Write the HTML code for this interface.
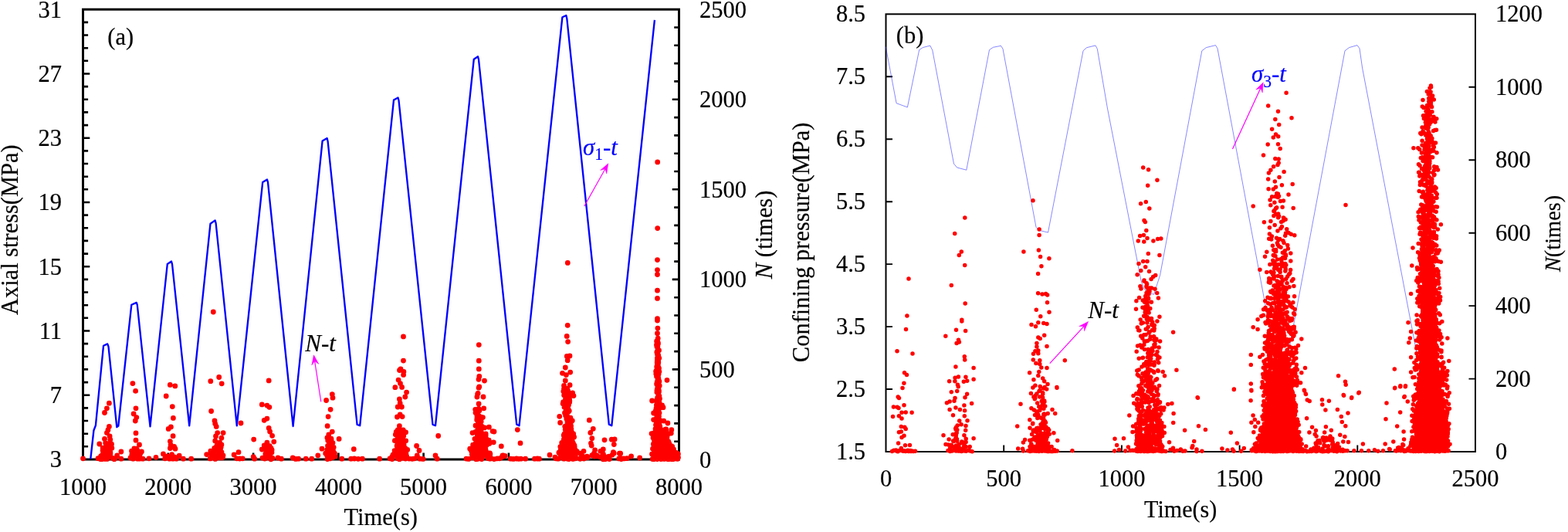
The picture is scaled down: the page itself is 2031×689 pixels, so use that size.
<!DOCTYPE html>
<html lang="en">
<head>
<meta charset="utf-8">
<title>Axial stress and confining pressure versus AE counts</title>
<style>
html,body{margin:0;padding:0;background:#fff;}
body{width:2031px;height:689px;overflow:hidden;}
svg{display:block;font-family:"Liberation Serif","Times New Roman",serif;font-size:30.5px;fill:#000;}
text{stroke:#000;stroke-width:0.2px;}
text[fill="#0000ff"]{stroke:#0000ff;stroke-width:0.2px;}
</style>
</head>
<body>
<svg width="2031" height="689" viewBox="0 0 2031 689">
<rect width="2031" height="689" fill="#fff"/>
<g id="plotA">
<rect x="107.5" y="12.2" width="772" height="582.8" fill="none" stroke="#000" stroke-width="3"/>
<path d="M107.5 28.9h6.6M107.5 45.5h6.6M107.5 62.2h6.6M107.5 78.8h6.6M107.5 95.5h8.8M107.5 112.1h6.6M107.5 128.8h6.6M107.5 145.4h6.6M107.5 162.1h6.6M107.5 178.7h8.8M107.5 195.4h6.6M107.5 212h6.6M107.5 228.7h6.6M107.5 245.3h6.6M107.5 262h8.8M107.5 278.6h6.6M107.5 295.3h6.6M107.5 311.9h6.6M107.5 328.6h6.6M107.5 345.2h8.8M107.5 361.9h6.6M107.5 378.5h6.6M107.5 395.2h6.6M107.5 411.8h6.6M107.5 428.5h8.8M107.5 445.1h6.6M107.5 461.8h6.6M107.5 478.4h6.6M107.5 495.1h6.6M107.5 511.7h8.8M107.5 528.4h6.6M107.5 545h6.6M107.5 561.7h6.6M107.5 578.3h6.6M879.5 35.5h-6.3M879.5 58.8h-6.3M879.5 82.1h-6.3M879.5 105.4h-6.3M879.5 128.8h-8.8M879.5 152.1h-6.3M879.5 175.4h-6.3M879.5 198.7h-6.3M879.5 222h-6.3M879.5 245.3h-8.8M879.5 268.6h-6.3M879.5 291.9h-6.3M879.5 315.3h-6.3M879.5 338.6h-6.3M879.5 361.9h-8.8M879.5 385.2h-6.3M879.5 408.5h-6.3M879.5 431.8h-6.3M879.5 455.1h-6.3M879.5 478.4h-8.8M879.5 501.8h-6.3M879.5 525.1h-6.3M879.5 548.4h-6.3M879.5 571.7h-6.3M217.8 595v-8.5M328.1 595v-8.5M438.4 595v-8.5M548.6 595v-8.5M658.9 595v-8.5M769.2 595v-8.5" stroke="#000" stroke-width="2.6" fill="none"/>
<text transform="translate(80 22.6) scale(1 1.025)" text-anchor="end">31</text>
<text transform="translate(80 105.9) scale(1 1.025)" text-anchor="end">27</text>
<text transform="translate(80 189.1) scale(1 1.025)" text-anchor="end">23</text>
<text transform="translate(80 272.4) scale(1 1.025)" text-anchor="end">19</text>
<text transform="translate(80 355.6) scale(1 1.025)" text-anchor="end">15</text>
<text transform="translate(80 438.9) scale(1 1.025)" text-anchor="end">11</text>
<text transform="translate(80 522.1) scale(1 1.025)" text-anchor="end">7</text>
<text transform="translate(80 605.4) scale(1 1.025)" text-anchor="end">3</text>
<text transform="translate(107.5 640.6) scale(1 1.025)" text-anchor="middle">1000</text>
<text transform="translate(217.8 640.6) scale(1 1.025)" text-anchor="middle">2000</text>
<text transform="translate(328.1 640.6) scale(1 1.025)" text-anchor="middle">3000</text>
<text transform="translate(438.4 640.6) scale(1 1.025)" text-anchor="middle">4000</text>
<text transform="translate(548.6 640.6) scale(1 1.025)" text-anchor="middle">5000</text>
<text transform="translate(658.9 640.6) scale(1 1.025)" text-anchor="middle">6000</text>
<text transform="translate(769.2 640.6) scale(1 1.025)" text-anchor="middle">7000</text>
<text transform="translate(879.5 640.6) scale(1 1.025)" text-anchor="middle">8000</text>
<text transform="translate(906 22.7) scale(1 1.025)" text-anchor="start">2500</text>
<text transform="translate(906 139.3) scale(1 1.025)" text-anchor="start">2000</text>
<text transform="translate(906 255.8) scale(1 1.025)" text-anchor="start">1500</text>
<text transform="translate(906 372.4) scale(1 1.025)" text-anchor="start">1000</text>
<text transform="translate(906 488.9) scale(1 1.025)" text-anchor="start">500</text>
<text transform="translate(906 605.5) scale(1 1.025)" text-anchor="start">0</text>
<text transform="translate(493.2 680.2) scale(1 1.025)" text-anchor="middle" font-size="30.5">Time(s)</text>
<text transform="translate(23 297.7) rotate(-90) scale(1 1.025)" text-anchor="middle" font-size="30.45">Axial stress(MPa)</text>
<text transform="translate(999.7 303.9) rotate(-90) scale(1 1.025)" text-anchor="middle" font-size="30.6"><tspan font-style="italic">N</tspan> (times)</text>
<text transform="translate(139.3 58.1) scale(1 1.025)" text-anchor="start" font-size="30.5">(a)</text>
<polyline points="117.3,594.5 121.4,557.5 123.9,551 134,447.8 139.2,445.4 140.5,448.8 151.3,553.2 153.3,551.5 170.3,394.8 176.8,391.9 177.8,395 194.5,552.4 216.8,342 222,338.6 223,342 245.2,551.3 272.5,289.7 278.6,285.4 279.6,289 306.8,551.3 340.2,236 346,232.5 347,236 379.6,552 417.6,182.6 423.6,179.1 424.6,183 462.6,550 466.2,551.2 510,129.6 515.5,126.5 516.5,130 560.5,550 564,551.2 613.8,76.7 619,73.2 620,77 669.2,549.6 672.5,551.3 728.4,22.2 733.3,20 734.3,24 788.8,549.6 792.3,551.3 847.9,25.9" fill="none" stroke="#0000ff" stroke-width="2.35" stroke-linejoin="round"/>
<path d="M107.5 593.8h0M141.4 522.2h0M138.4 528.8h0M135.5 534.5h0M141.4 552.4h0M139.9 556.9h0M138.4 560.6h0M142.1 565h0M135.5 568.4h0M142.8 569.4h0M128.8 575h0M144.3 576h0M156.9 585h0M151.7 590h0M156.9 594.2h0M142.9 586h0M139.3 586.3h0M139.7 580h0M131.5 591.9h0M142.1 577.1h0M144.5 575.2h0M135.9 589.6h0M136.7 573.7h0M133.2 580.2h0M141 586.2h0M139.7 587.3h0M135.5 589.8h0M148 594.7h0M133.4 590.5h0M137.2 582.6h0M140.5 585h0M136.2 594.4h0M141.5 580.7h0M131.7 594.7h0M138.7 589.2h0M140.7 577h0M131.2 591.3h0M137.8 577.5h0M138.7 579.8h0M137.6 580.2h0M133.5 589.5h0M140.5 580.7h0M140.2 592.1h0M140.5 580.7h0M139.2 589.4h0M138.9 580.8h0M133.1 583.5h0M137.6 577.1h0M136.5 588.7h0M138.7 594.4h0M130.5 593h0M138.8 593.7h0M143.7 580.1h0M144.9 580.3h0M133.5 588.8h0M140.1 575h0M139.1 590.5h0M132.9 588.7h0M130.7 590.7h0M142.9 588h0M127 593.7h0M130 594.5h0M133 593.6h0M146 593.4h0M149 593.7h0M171.9 496.6h0M175.6 506.4h0M176 528.8h0M173.1 535.9h0M176.8 540.6h0M175.3 545h0M176 560.9h0M176 570.2h0M180.5 576h0M173.8 581h0M170.9 585h0M183.4 585h0M179.8 587h0M175.3 590h0M172.4 594.2h0M178.3 594.2h0M185 594.2h0M193 593.8h0M202 592.3h0M169 593h0M181 592h0M170.8 588.8h0M174.1 587.7h0M181.7 587.6h0M178 591.3h0M170.5 584.1h0M181.2 594.1h0M176.6 581.2h0M178.4 592.2h0M177.6 582.7h0M179.4 594h0M220.3 498.4h0M226.8 499.9h0M215.2 513h0M223.3 526.6h0M224.4 541.4h0M221.4 552.9h0M218.2 555.4h0M224.1 564.7h0M220.4 571.6h0M221.1 576.1h0M225.6 578.3h0M220.4 580.5h0M227 581.2h0M211.5 587.9h0M222.6 588.6h0M232.2 590.1h0M213.7 593.8h0M219.6 594.2h0M224 594.2h0M228.5 594.2h0M237.4 594.2h0M247.7 594.2h0M217 591h0M226 592h0M276.3 404h0M272.8 493.7h0M283.7 488.5h0M287.2 496.8h0M273.6 532.5h0M278 545h0M278.7 548.7h0M280.2 552.4h0M281.7 560.6h0M289.1 560.6h0M279.5 565h0M286.9 567.2h0M278.7 570.9h0M284.6 573.1h0M286.9 576h0M281 577h0M283 581h0M272.8 584.2h0M267.7 588.6h0M312 548h0M309 585.7h0M303.1 589h0M306.8 593.8h0M310.5 594h0M314.2 593.8h0M283 592.1h0M288.1 590.5h0M286.6 586.2h0M280.7 588.8h0M277.7 589h0M289 589.8h0M281.6 591.2h0M283.3 588.9h0M280.1 578.8h0M277.8 589.2h0M281.5 590.7h0M272.2 593.9h0M280.1 584h0M285.6 581.1h0M282.8 586.6h0M276.8 590.3h0M288.5 592.3h0M280.1 585.6h0M283.9 580.3h0M287.1 592.9h0M278.1 583.5h0M278.1 583.5h0M278.7 589.6h0M284.8 592.8h0M281 578.5h0M283.6 577.4h0M279.5 584.1h0M277.7 580.3h0M273.8 592.7h0M282.2 577.6h0M285 589.7h0M278.8 594.4h0M273.5 587.2h0M279.8 587.1h0M281.5 583.4h0M284.1 587.9h0M287 585.7h0M286.2 578.9h0M282.1 580.1h0M279.5 593.8h0M348.2 492.9h0M339.3 523.9h0M345.9 525.1h0M348.9 527.3h0M345.9 542.1h0M342.2 544.3h0M348.2 554.4h0M349.6 559h0M352.6 564.3h0M328.7 569.1h0M354.8 572.1h0M345.9 573.1h0M342.2 576.8h0M351.1 580.5h0M339.3 582h0M328.2 591.6h0M329.7 594.2h0M360 593h0M364.4 594.2h0M379.2 593h0M383 594.4h0M386.6 594.2h0M396.2 594.2h0M353.1 593.4h0M344.7 587.4h0M350.1 591.3h0M346.8 591.2h0M350.9 594.8h0M347.9 592.2h0M339.9 593.1h0M348.6 587h0M344.5 587.8h0M346.2 579h0M345.5 585.2h0M347.9 581.3h0M351.9 592.9h0M346.2 587.9h0M344.8 583h0M347.2 591.4h0M344.3 593h0M352 586h0M352.1 582.7h0M343.9 588.4h0M346.8 588.5h0M349.3 577.7h0M348.9 586.3h0M343.8 587.8h0M349.1 588.6h0M342.9 594h0M347.9 580.8h0M343.5 593.7h0M350.1 582.3h0M344.9 580.9h0M430.3 510.6h0M431 515.2h0M422.6 518.5h0M428.1 530.3h0M425.1 539.6h0M424.1 551.7h0M430.3 559.1h0M425.8 562.8h0M439.1 568.4h0M417 581.2h0M411.8 589.8h0M403.7 594.2h0M458.3 581.7h0M442.8 594.2h0M454.7 594.2h0M459 594h0M464 594.3h0M469.4 594.2h0M491.6 594.2h0M427.2 572.2h0M427.4 576.7h0M427.1 568.6h0M423.8 582.4h0M426.1 583h0M425.6 579.6h0M429.1 572.6h0M430.4 583h0M426.9 591.6h0M428.8 590.4h0M428.4 576.5h0M427.2 593.9h0M427.6 573.9h0M429 568.2h0M423.7 589.9h0M421.7 587.2h0M433.4 587.1h0M429.1 569.1h0M426.6 582.2h0M423.9 567h0M427.9 583.6h0M424.7 570.4h0M434 591.1h0M427.9 568.2h0M428 581h0M427.1 581.2h0M425.4 584.9h0M424.4 591.2h0M424.3 588.6h0M425.3 571.1h0M431 592.4h0M427.4 591.6h0M430.6 584.9h0M428.4 590.3h0M431.5 588.7h0M432.2 579.3h0M431 587.4h0M426.2 579.3h0M424.5 577.3h0M429.1 577.8h0M431 573.6h0M428.9 577.2h0M429.9 583.1h0M430.5 586.1h0M424.1 594.5h0M424.7 588.6h0M426 565.9h0M428.6 568.3h0M430.5 583.5h0M431.6 584h0M424.7 590.4h0M427 589.1h0M425.9 570.9h0M425.3 582h0M426.6 593.7h0M522.5 435.9h0M522.5 467.1h0M519 477.8h0M517.5 479.5h0M522.9 481.4h0M522.6 485.4h0M516.1 492.1h0M518.5 496.6h0M511.8 501.7h0M520.6 501.4h0M526.6 508.1h0M524.8 514h0M517.4 517h0M518.2 522.2h0M515.2 527h0M520.4 527h0M518.2 536.9h0M514.5 540h0M521.1 539.6h0M517.4 551.7h0M515.2 556.9h0M525.6 559.8h0M512.3 562.8h0M539.6 577.5h0M543 583.5h0M540.3 590h0M544 594.2h0M567.7 564.5h0M564 590h0M566.2 594.2h0M514.8 583.4h0M516.9 585.2h0M510.8 587h0M511.3 570.7h0M522.1 588.2h0M519.2 588h0M518.7 593.5h0M522.8 577.8h0M522 570.6h0M523.9 587.2h0M515.4 589.9h0M514.9 584.2h0M515.4 560.6h0M519.6 578.2h0M518.1 571.4h0M525 588.8h0M518.6 593.7h0M522.8 564.4h0M514.5 584.2h0M520.4 586.1h0M518 584.5h0M525.7 570.8h0M507.7 591.7h0M518.5 571.7h0M515.1 563.8h0M519.4 562.8h0M517 584.4h0M518.8 569.2h0M509 590.6h0M523.5 589.7h0M515.4 569.3h0M519.1 589.8h0M517.4 594.7h0M522.8 587.9h0M518 575.6h0M515.3 562.3h0M518.3 579.7h0M510.4 588.8h0M511.8 585.4h0M518.4 587.3h0M518.5 565.9h0M516.6 575.5h0M527.7 582.5h0M521.9 592.7h0M515.7 573.1h0M520.7 593.2h0M515.7 575.3h0M514.3 576.6h0M522.1 582.3h0M515.7 590.5h0M520.7 588.3h0M518 558.2h0M525.1 582.4h0M514.1 589.6h0M508.9 589.1h0M518.5 587.6h0M517.4 584.5h0M512.7 585h0M522.1 588.5h0M521.2 576.5h0M519 585.7h0M525.9 587.2h0M523.1 577.1h0M526.7 591h0M526.3 592h0M523.8 581h0M514.1 577.5h0M523 587.8h0M515.1 567.2h0M518.4 572.6h0M516.1 573.3h0M509.8 588.8h0M523.3 578.8h0M513.2 559.4h0M517.7 569.5h0M512.2 583.3h0M517.5 572.2h0M521.5 573.4h0M519.9 579.5h0M517.5 592.7h0M515.2 593.8h0M522.6 560.4h0M518.7 576.2h0M523.7 571.9h0M513.7 570.3h0M523.1 575.7h0M511.1 583.6h0M519.4 573.8h0M525 580.7h0M515.4 571.6h0M516.7 588.6h0M517.7 590.8h0M516.5 571.7h0M522.7 579.5h0M520.3 583h0M522.8 589.2h0M518 563.1h0M515.2 581.6h0M514.2 590.4h0M516.2 562.2h0M519.2 587h0M516.8 563.9h0M525.2 594.1h0M518.1 557.1h0M518.3 570.3h0M522.2 556.9h0M517.3 569h0M516.8 575.8h0M518.8 574.4h0M517.5 571.1h0M505 593.8h0M508 594.5h0M530 594.1h0M534 594.3h0M537 593.8h0M548 594.4h0M620.3 446.6h0M620.3 467.2h0M620.3 477.9h0M620.8 487.5h0M620 491.3h0M627.5 493.1h0M620.8 500.9h0M619.1 509.4h0M620.1 502.2h0M618.6 510.3h0M617.9 514h0M626 514h0M620.1 522.9h0M615.7 530.3h0M626.7 528.8h0M620.1 529.5h0M617.9 541.4h0M620.1 538.4h0M627.5 553.9h0M633.4 553.2h0M638.1 558.6h0M612 560.6h0M639.3 572.8h0M649.3 577.8h0M608.7 581.2h0M651 590h0M649.6 592.3h0M670.3 556.6h0M674 573.9h0M661.4 594.2h0M665 594.4h0M669 594h0M672 594.3h0M674.7 594.2h0M680.6 594.2h0M692.5 594.2h0M696 594h0M698.4 594.2h0M616 534.4h0M619.6 553.1h0M622.9 545h0M616.8 534.3h0M617.3 535.6h0M620 559.9h0M624.3 552.3h0M618.7 544.5h0M620.5 531h0M623.8 561.5h0M616 551.2h0M618.7 543.1h0M622 544.2h0M618.8 557.3h0M623.6 555.6h0M618 543.4h0M623.8 554.2h0M620.6 554.2h0M619.2 560.5h0M619.1 534h0M622.1 553.7h0M617.7 543.7h0M620.8 561.3h0M621.1 549.3h0M625.4 540.6h0M618.5 557.1h0M621.7 557.3h0M622.5 539.8h0M618 537.9h0M620.9 531.8h0M620.2 560.4h0M621.2 553h0M619.1 550.7h0M617.9 538.4h0M618.7 544.5h0M619.2 548.5h0M618.3 542.8h0M621.1 552.9h0M619.5 550.9h0M623.3 551.6h0M623.7 555.2h0M622.3 557.6h0M623.2 546h0M620 548.7h0M615.9 559.4h0M634.9 587.9h0M624.6 584.2h0M610.5 584.1h0M621.8 579.6h0M624.1 563.2h0M618.9 572.3h0M622.4 572.1h0M634.7 594.2h0M623.6 578.8h0M632.2 588.5h0M621.2 565.9h0M622.7 582.5h0M617.9 572.4h0M629.2 563.8h0M622.3 578h0M621.2 562.7h0M628.7 574.9h0M618.3 594.4h0M633.8 574.4h0M624.9 570.5h0M624.1 580.4h0M621.3 593.8h0M621.6 570.3h0M622.6 566.3h0M635.2 592.5h0M629.5 567.7h0M612.8 579.6h0M621.6 574.8h0M621.3 569.8h0M624.7 589.6h0M620.9 592.1h0M630.8 574.6h0M619.2 573.7h0M623.9 594.6h0M617.9 582.3h0M623.5 574h0M622.5 565.3h0M620.5 572.5h0M633.2 570.1h0M623.9 561.9h0M629.2 577.6h0M624.9 569.8h0M629.2 576.7h0M628.9 581.8h0M631.9 586.7h0M621.8 569.5h0M618.3 584.6h0M634.3 589.2h0M619 572.1h0M616.1 583.7h0M628.3 584.2h0M611.8 591.8h0M621.1 560.5h0M624.2 579.5h0M627 564.4h0M624 582.6h0M614.9 568.3h0M624.9 575.1h0M618.5 573.3h0M613.7 590.4h0M628.5 568.9h0M614.6 589.5h0M625.7 576.9h0M624.3 562.5h0M616.7 594.7h0M611.3 588.4h0M615.6 592.2h0M616.1 574.5h0M629.2 561.9h0M614.9 588.1h0M618.8 582.9h0M618.7 593.3h0M617.7 594.5h0M618.9 578.2h0M630.7 576.1h0M629.3 584h0M626.3 577.8h0M616.2 589.4h0M619 570h0M618.6 570.8h0M628.8 574.9h0M625 586.6h0M619.7 577.5h0M613.1 576.8h0M618.3 569.9h0M624 593.1h0M624.3 576.8h0M629.9 576.7h0M611.9 592.7h0M622.6 577.6h0M626.9 575.5h0M618.2 563.3h0M619.4 562.4h0M619.3 561.7h0M621 582.7h0M627.8 573.1h0M616.4 568.3h0M620.3 587.5h0M615.3 591.6h0M612.6 576.2h0M623.6 561.1h0M629 590.1h0M626.1 586.3h0M634.5 586.9h0M621.8 591.7h0M620.2 565.4h0M619 563.7h0M614.7 581.2h0M617.9 578.2h0M612.5 586.2h0M617 576.1h0M627.7 583.8h0M613.8 587.2h0M615.5 576.9h0M622.8 563.3h0M616.9 580.3h0M624 561h0M622.4 583.3h0M623.5 570.1h0M623.2 593.9h0M632 593.6h0M620.8 584.9h0M632.1 573.7h0M622.3 577.5h0M620.2 567.8h0M624.8 576.7h0M621.4 570.3h0M616.9 572.1h0M619.3 577.9h0M626.6 585.8h0M604 594.1h0M607 594.4h0M640 594.6h0M644 593.8h0M647 593.8h0M735.3 340.4h0M735.2 421.3h0M734.2 435.4h0M735.6 442.6h0M734.3 461.5h0M738 461h0M735.2 466.7h0M732.3 476h0M728.5 483.3h0M738.7 482.1h0M733.4 485.6h0M732.3 492.9h0M730.5 499.5h0M738.1 498.7h0M741.6 508.8h0M743 512.6h0M732.9 510.3h0M724.7 539.3h0M725.6 547.4h0M763.3 544.2h0M768.3 555.3h0M764.8 560.5h0M766.8 567.7h0M765.4 574.1h0M766.2 577h0M770.6 582.8h0M783 569.8h0M792.3 569.2h0M796.1 568.9h0M795.3 575.6h0M781.3 582h0M777.8 584.3h0M794.4 585.7h0M756 584.3h0M751.7 587.2h0M817.6 591h0M828.6 593h0M712 589.2h0M719 592.1h0M735.2 563.3h0M739.6 551.7h0M733.3 559.6h0M734.3 538.7h0M736.5 524.6h0M732 521.1h0M732.4 516.6h0M729.8 507h0M731.7 552.3h0M732.2 556.4h0M734.4 562.1h0M736.6 522.3h0M734.5 532.1h0M732.4 553h0M739.9 555.6h0M735.7 543.7h0M739.4 547.2h0M734.9 512.4h0M729.6 520.6h0M741.3 544.8h0M735.2 513.1h0M737.2 547.7h0M733.1 569.3h0M730.6 511.8h0M735.7 553.9h0M731.9 527.8h0M732.6 538.2h0M735.8 558.2h0M737.3 532.1h0M735.7 568.9h0M734.4 542.3h0M734.9 516.4h0M732.2 522.1h0M732 527.3h0M734 513.9h0M733.7 520.4h0M729.1 522.8h0M730.2 563.7h0M737.6 517h0M736.8 518.5h0M736.1 533.6h0M735.7 506.5h0M736.4 547.2h0M738.3 562h0M734.2 560.2h0M730.5 503.4h0M735.2 508.1h0M731.6 526.4h0M734.5 519.1h0M739 541.1h0M736.4 554.2h0M740.7 559.8h0M736.6 510.3h0M736.1 552.3h0M733.4 503.1h0M734.9 531.8h0M734.9 558.8h0M735.9 529.5h0M731 527.2h0M734.6 554.6h0M733.8 542.3h0M731.6 510.8h0M731.5 534.7h0M733.8 532.8h0M735.7 567.2h0M733.8 527.1h0M738.1 569.3h0M735.4 519.8h0M734.3 516.6h0M731.1 566.9h0M735.6 529.7h0M735 547.9h0M737.8 519.2h0M736 561.5h0M734.5 543.7h0M735.7 551.4h0M732.2 533.9h0M735.5 545.8h0M734.9 504h0M738.6 545.3h0M737.4 514.6h0M735.3 554.3h0M737.1 569.4h0M737.5 512.5h0M737.7 520.9h0M739.9 566.3h0M735.2 540h0M734.7 562.3h0M734.8 558.6h0M730.9 562.1h0M731.2 585.6h0M732.5 589.5h0M745.4 589.8h0M745.3 582.8h0M730.3 569.1h0M737.5 563.3h0M726.1 590.7h0M741.6 577.8h0M737.3 592.5h0M741.3 571.4h0M734.4 587.9h0M728.1 579.2h0M734.9 575.3h0M734.5 584.4h0M737.4 568.1h0M736.3 568.1h0M730.2 584.6h0M743.1 593.8h0M732.6 576.9h0M736.3 568.9h0M734.4 590.4h0M739.8 581.5h0M733.7 587.2h0M737.7 574.3h0M738.3 591.3h0M738.4 593.3h0M729.7 584.3h0M732.6 578.8h0M736.3 593.9h0M731.5 586.4h0M737.2 568.2h0M738 578.9h0M738.4 591.2h0M735.5 566.7h0M737.1 577h0M739.6 586.3h0M731.2 593.7h0M733.9 580.4h0M739.1 575.4h0M751.4 594.3h0M741.8 578h0M737.2 587.2h0M736.8 580.2h0M738 571.8h0M730.5 577.2h0M725.7 588.3h0M741.2 585.7h0M741.9 573.1h0M730.4 589.2h0M742.7 561.8h0M727.1 592.4h0M731.5 582.4h0M733.6 589.6h0M732.7 567.9h0M733.8 566.2h0M731.5 589.2h0M732.5 564.4h0M740.2 583.1h0M735.7 567h0M735.4 594.3h0M747.3 584.7h0M725.8 578.6h0M742.9 590.3h0M731.2 569.3h0M738.4 567.2h0M734.8 585.5h0M727.9 578.7h0M738.2 567.3h0M743 581h0M737.5 593.7h0M731.8 592.6h0M731 588.2h0M734 579.1h0M729.9 579.2h0M730.4 590.8h0M731.2 582.8h0M732.6 566.7h0M735.8 580.8h0M728.7 580.9h0M730.4 594.2h0M735.9 594h0M734.9 577.2h0M733.7 584h0M733.6 581.8h0M731 566.4h0M740.5 589.7h0M735.6 578.3h0M743.6 566h0M737.5 575.8h0M732 589.5h0M731.7 588.9h0M743.6 582.9h0M741.7 562.3h0M732.8 583.7h0M744.2 578.8h0M734.3 592.9h0M737.7 579.5h0M730.5 579.7h0M733.7 575.5h0M740.7 567.5h0M726.1 582.8h0M741.9 575.2h0M730.8 593h0M735.7 582.4h0M729 591.8h0M736.7 579.2h0M739.2 593.2h0M734.6 577.8h0M732.8 588.3h0M730.6 571.2h0M737.3 576.5h0M741 577.8h0M736.7 576.8h0M736.9 594.5h0M735.8 572.4h0M727.2 583.6h0M737.7 590.5h0M738.2 579.2h0M742.1 594.4h0M735.9 580.9h0M737.2 566.9h0M738 563.2h0M729.4 582.9h0M745.2 593.8h0M735.7 566.6h0M737.4 571.1h0M739.2 567.7h0M745.6 592.4h0M744 577h0M742.6 574.5h0M727.7 573.5h0M730.3 582.5h0M731.6 573.1h0M731 573.8h0M736.6 581.6h0M743.3 591.4h0M739.6 582.7h0M745.8 586h0M735.8 573.4h0M736.2 577h0M737.3 579.9h0M737.5 593.6h0M738.1 576.5h0M741.7 567.2h0M735.7 565.3h0M737.6 583.3h0M735.2 575.1h0M723.9 586.2h0M745 583.5h0M740.9 591.3h0M754.3 591.2h0M760.3 591.2h0M769.8 591h0M761.1 592.6h0M773.4 590.9h0M754.4 590.9h0M781.2 594.8h0M781.4 588.1h0M766.8 589.7h0M789.3 594.5h0M804.7 594.6h0M801.8 593.9h0M802.4 587.2h0M777.4 591.7h0M788.4 591.9h0M784.3 594.5h0M754.8 591.2h0M803.7 587.3h0M756.3 594h0M803.6 587.2h0M751.8 593.6h0M788.6 591.2h0M782.5 593.1h0M795.2 587h0M753.8 593.4h0M804.6 593.7h0M772.8 589.7h0M769.4 587.1h0M793.1 589.1h0M782.8 591.2h0M720 593.8h0M723 594.2h0M808 593.9h0M812 593.7h0M851.7 209.9h0M851.7 295.6h0M851.5 336.6h0M851.5 349.6h0M851.5 355.5h0M851.5 376.2h0M851.5 386.4h0M851.5 412.7h0M851.5 415h0M851.9 425.1h0M851.5 431.7h0M852.2 438.2h0M851.1 441.5h0M851.5 445.8h0M864 492.3h0M844.6 519h0M857.6 524.8h0M859 527.7h0M846.6 535h0M846.6 543.6h0M859.7 545.1h0M864.9 548h0M869.8 556.7h0M862.9 558.2h0M869.3 561h0M844 561.6h0M849.5 550.2h0M852.4 471.7h0M851.6 481.6h0M851.3 472.5h0M849.8 549.6h0M852 477.7h0M853 524.3h0M851.8 449.8h0M852.7 467.2h0M852.5 486.3h0M850.1 563.8h0M852.4 538.7h0M850.8 538.8h0M852.6 514.2h0M850.2 542.3h0M851.8 487.5h0M852 457.9h0M853.1 560.1h0M851.4 556.3h0M849.4 558.2h0M853.9 524.8h0M851.3 558.7h0M852.2 455h0M850.9 449h0M850.8 446.2h0M851.9 455.3h0M852.8 511h0M849.3 558.4h0M851.9 449.6h0M850.7 555.5h0M851.5 481.3h0M853.5 539.1h0M852.9 515.4h0M853.8 463.8h0M852.1 443.1h0M850.5 446.5h0M849.3 532h0M852.5 467.5h0M850.8 521.6h0M850.6 441.9h0M851.8 472.6h0M851.7 499.1h0M853 484.6h0M851.9 492.1h0M852.2 481.6h0M854.8 557h0M852.8 460.3h0M851.6 476.1h0M851.2 469.4h0M849.6 558.4h0M851.6 525.9h0M853.1 502.2h0M850.5 487.4h0M852.3 473.6h0M850.7 497.8h0M853.6 500.2h0M850.7 475h0M852.2 540h0M852.5 539.7h0M851.8 503h0M851.9 558.2h0M852.6 476.3h0M850.4 482.8h0M854.8 544.3h0M853.8 554.6h0M854 529h0M852 462h0M851.7 470.5h0M852.3 504h0M854.5 516.3h0M851.1 520.5h0M853.5 453.7h0M851.5 478.8h0M854 534.8h0M851.3 455.7h0M854 548.5h0M853.9 549.2h0M851.5 519.9h0M849.8 484.2h0M851.5 539.5h0M852.7 536.9h0M850.5 479.5h0M853.9 521h0M853.9 481.3h0M853.2 476.3h0M852.4 560.3h0M851.8 474.9h0M852.5 444.4h0M851.9 499.1h0M851.4 464.9h0M849.6 480.9h0M853.1 484.4h0M851.3 520h0M852.8 469.4h0M852 455.2h0M852.6 535.3h0M852.6 557.3h0M853.4 507.6h0M851.4 463.7h0M851.4 458.8h0M852.1 530h0M853.2 535.9h0M850.6 497.1h0M854.2 499.4h0M850.5 447h0M850.5 526.8h0M852.7 493.2h0M852.7 490.4h0M851.1 517h0M850.8 456.1h0M850.8 442.1h0M852 498.6h0M852.2 546.5h0M852.1 479.4h0M852 478h0M851.3 503.6h0M852.2 550.9h0M851.3 528.5h0M851.2 494.6h0M851 518h0M851.7 536.6h0M851.3 549.9h0M854.8 552.2h0M852.9 490.2h0M853.5 477h0M852.2 522h0M851.9 521.7h0M852.8 507.4h0M850 529h0M851.5 535.8h0M852.7 467.6h0M851.7 464.6h0M853.9 512.9h0M852.6 488.9h0M853.1 535.2h0M852.4 471.4h0M852.3 508h0M852.1 537.6h0M851.4 558.8h0M850.9 506h0M853.7 518.2h0M852.4 476.1h0M851.9 458.2h0M853.5 506.2h0M852.4 559.2h0M851.8 449.4h0M852.6 526.3h0M851.6 474.2h0M851.8 443h0M852.2 458.6h0M849.8 556.7h0M851.5 454.7h0M851.1 532.4h0M851.4 526.9h0M851.7 547.4h0M852.6 527.4h0M851.3 467.3h0M852.9 495.2h0M852.6 516.2h0M851.3 467.8h0M851.1 560.5h0M853.9 493.9h0M850.4 524.6h0M852.3 528.3h0M850.4 549h0M851.3 468.6h0M851.6 527h0M850.9 507.9h0M852.4 445.5h0M851.7 515h0M853.3 563.7h0M856.3 567.6h0M856.7 586.4h0M856.8 572.5h0M852.1 575.2h0M849.1 571.3h0M850.1 583.2h0M860.5 590.8h0M866.4 573.4h0M865.2 584.2h0M856.2 580.2h0M859.1 580.3h0M869.4 581.3h0M849.1 569.8h0M859.8 559h0M858.6 572.3h0M867.1 590.5h0M857.9 587.9h0M872.5 581.9h0M859.6 592.8h0M864 570.7h0M861.7 580.7h0M860.2 580.8h0M846.4 594.7h0M855 576.3h0M865.1 582.3h0M863.3 588.4h0M861.3 567.4h0M854.6 585.8h0M858 581.6h0M847.9 584.4h0M848.6 585.2h0M865.2 588.4h0M855.5 582.1h0M864.5 571.4h0M845.4 588.3h0M849.6 589.4h0M852 558.9h0M853.9 593.9h0M857.7 590.3h0M859.4 583.9h0M862.6 582.3h0M856.3 571h0M862.1 580h0M865.4 572.1h0M850 561.5h0M864.9 572.5h0M866.7 594.5h0M861.3 576.1h0M854.7 561.1h0M845.5 581.2h0M856.1 594.5h0M862.7 566.2h0M857.1 567.8h0M857.2 588.5h0M854.8 568.2h0M847.6 591.3h0M865.6 579.1h0M868.3 587.9h0M855.6 560.5h0M846 566.9h0M851.8 591.6h0M860.4 560.2h0M846.3 592.7h0M848.8 572.4h0M854.9 568.7h0M855.9 567.2h0M857.7 566.3h0M851.8 576.3h0M852.4 583.9h0M859.8 556.8h0M865.1 576.4h0M857.7 565.4h0M866.8 575.7h0M851.5 559.7h0M868.3 588h0M853.8 593h0M858.8 591h0M872.3 594.5h0M866 575.3h0M869.2 592.2h0M870.4 594.7h0M853.3 593.9h0M858.1 582.3h0M855.1 561.3h0M855.4 573.8h0M870.8 578.4h0M858.4 571.4h0M857.7 568.2h0M849.4 582.1h0M849 555.4h0M865.8 571.9h0M855.5 561.5h0M867.4 579.6h0M856.6 593.3h0M859.3 576.6h0M856.6 578.9h0M863.3 589h0M847.3 584h0M857.4 577.2h0M869.2 582.6h0M847 561h0M866.2 578.8h0M862.8 581.8h0M852.8 564.3h0M847.4 570h0M852.5 561.4h0M862.2 583.6h0M861.1 564.7h0M863.3 591.8h0M872.1 591.3h0M863.1 572.4h0M851.5 579.1h0M859.1 571.4h0M847.2 580.5h0M870.1 583.7h0M856.3 589.3h0M862 580.4h0M859.1 592.9h0M864.2 579.5h0M850.5 560.2h0M848.9 585.9h0M863.8 577.6h0M854 578.3h0M847.6 592h0M854.3 591.9h0M864 565.6h0M854.9 561.4h0M853.9 578.3h0M852 593.3h0M846.3 588.9h0M865.7 585.1h0M848.1 589.2h0M856.1 583.6h0M858.5 592.8h0M865.4 562h0M860.4 584h0M858.2 592.4h0M854.5 580.3h0M863.3 593.7h0M851.6 581.9h0M861.9 587.8h0M864.6 577.4h0M847.6 579h0M860.8 567.3h0M855.7 584.8h0M863.9 567.6h0M860.1 565.2h0M865.6 583.9h0M867.4 591.6h0M856.5 585h0M858.3 575.5h0M867 574.9h0M863.7 585.8h0M853 584.8h0M864.3 563.7h0M851.3 573h0M862.8 565.9h0M856.4 562.7h0M860.3 569.8h0M851.6 579.3h0M858.8 577.6h0M860 558.9h0M848.9 574h0M860.4 562.3h0M855.9 557.4h0M850.9 573.7h0M862.7 575h0M868.9 592.9h0M855.5 565.1h0M847.2 582.1h0M860.7 577.1h0M872.5 582.8h0M862.4 588.3h0M857.6 588.8h0M858.2 581.2h0M864.4 586.9h0M859.2 589.1h0M847.7 566h0M856.9 593.9h0M856.7 579h0M863.4 588.9h0M853 589.6h0M855.8 563.2h0M862.3 571.6h0M858.9 585.5h0M853.9 568.8h0M848 585.8h0M858.6 568.6h0M862.7 555.8h0M858.2 576h0M860.2 594.4h0M863.1 590h0M849.8 564.8h0M867.7 592.3h0M852.1 565.1h0M867.7 585h0M857.7 578h0M860.3 575.6h0M858.5 586.9h0M850.3 566h0M846.3 575.2h0M869.7 577.6h0M852.5 558.9h0M854.4 573.4h0M853.3 590.6h0M854 563.9h0M863.8 570.1h0M850.9 562.6h0M861.1 588.6h0M856.4 578.6h0M861.8 589.3h0M871 592.8h0M864.1 593.3h0M856.3 568.7h0M861.6 573h0M861.7 586h0M853.4 591.3h0M854.1 572.3h0M868.6 593.5h0M855.9 561.9h0M848.7 574.5h0M855.5 560.5h0M856.5 576.7h0M855.5 557.6h0M853.9 579.9h0M851.7 560.6h0M851.1 564.5h0M857.8 557.9h0M852.4 578.3h0M860.2 563.7h0M860.4 580h0M868.3 580.3h0M868 592.1h0M860.5 578.9h0M869.3 581h0M859.7 560.6h0M859 583.4h0M863.6 579.4h0M853.5 567h0M870.5 590.4h0M869.8 588.8h0M875.2 586.1h0M851.2 592.6h0M875.1 593h0M853 586.7h0M868.9 592.6h0M845.2 594.4h0M862.3 586.3h0M860.5 589h0M846.8 594h0M877.1 587.1h0M859.3 588.5h0M867.5 587h0M855.2 589.7h0M860.3 589.9h0M864.8 594.5h0M877 594.2h0M873.3 588.1h0M851.9 590.1h0M866.5 591.5h0M855.8 593.9h0M854.4 586.2h0M846.3 587.9h0M869.7 593.6h0M844.5 588.1h0M851.8 593.1h0M875.8 588.4h0M846.7 594.7h0M878.5 592.4h0M860.3 592.7h0M871 590.6h0M852.9 590.7h0M867.2 588.9h0M866.3 587.3h0M878.4 587.9h0M851.3 594.6h0M877.7 594.3h0M873.7 593.6h0M873 591.1h0M640 559h0M649.3 577.9h0M652 590h0M654 590.5h0" fill="none" stroke="#ff0000" stroke-width="6.8" stroke-linecap="round"/>
<text transform="translate(755 200.5) scale(1 1.025)" text-anchor="start" font-size="30.8" fill="#0000ff" font-style="italic">σ<tspan font-style="normal" font-size="21.5" dy="6.5">1</tspan><tspan dy="-6.5">-t</tspan></text>
<text transform="translate(395.3 455.3) scale(1 1.025)" text-anchor="start" font-size="31" font-style="italic">N-t</text>
<path d="M415.8 520.3L407.6 467.7" stroke="#ff00ff" stroke-width="1.2" fill="none"/>
<path d="M406.4 459.8L412.9 471.4L407.6 467.7L403.8 472.9Z" fill="#ff00ff" stroke="#ff00ff" stroke-width="0.5" stroke-linejoin="miter"/>
<path d="M756.8 267L783.9 218.8" stroke="#ff00ff" stroke-width="1.2" fill="none"/>
<path d="M787.8 211.8L785.7 225L783.9 218.8L777.7 220.4Z" fill="#ff00ff" stroke="#ff00ff" stroke-width="0.5" stroke-linejoin="miter"/>
</g>
<g id="plotB">
<rect x="1147.5" y="18.3" width="763.5" height="566.7" fill="none" stroke="#000" stroke-width="2"/>
<path d="M1147.5 99.3h8.5M1147.5 180.2h8.5M1147.5 261.2h8.5M1147.5 342.1h8.5M1147.5 423.1h8.5M1147.5 504h8.5M1911 112.8h-8.5M1911 207.2h-8.5M1911 301.7h-8.5M1911 396.1h-8.5M1911 490.6h-8.5M1300.2 585v-8.5M1452.9 585v-8.5M1605.6 585v-8.5M1758.3 585v-8.5" stroke="#000" stroke-width="1.9" fill="none"/>
<text transform="translate(1121 28.3) scale(1 1.025)" text-anchor="end">8.5</text>
<text transform="translate(1121 109.3) scale(1 1.025)" text-anchor="end">7.5</text>
<text transform="translate(1121 190.2) scale(1 1.025)" text-anchor="end">6.5</text>
<text transform="translate(1121 271.2) scale(1 1.025)" text-anchor="end">5.5</text>
<text transform="translate(1121 352.1) scale(1 1.025)" text-anchor="end">4.5</text>
<text transform="translate(1121 433.1) scale(1 1.025)" text-anchor="end">3.5</text>
<text transform="translate(1121 514) scale(1 1.025)" text-anchor="end">2.5</text>
<text transform="translate(1121 595) scale(1 1.025)" text-anchor="end">1.5</text>
<text transform="translate(1147.5 630) scale(1 1.025)" text-anchor="middle">0</text>
<text transform="translate(1300.2 630) scale(1 1.025)" text-anchor="middle">500</text>
<text transform="translate(1452.9 630) scale(1 1.025)" text-anchor="middle">1000</text>
<text transform="translate(1605.6 630) scale(1 1.025)" text-anchor="middle">1500</text>
<text transform="translate(1758.3 630) scale(1 1.025)" text-anchor="middle">2000</text>
<text transform="translate(1911 630) scale(1 1.025)" text-anchor="middle">2500</text>
<text transform="translate(1937 28.3) scale(1 1.025)" text-anchor="start">1200</text>
<text transform="translate(1937 122.8) scale(1 1.025)" text-anchor="start">1000</text>
<text transform="translate(1937 217.2) scale(1 1.025)" text-anchor="start">800</text>
<text transform="translate(1937 311.7) scale(1 1.025)" text-anchor="start">600</text>
<text transform="translate(1937 406.1) scale(1 1.025)" text-anchor="start">400</text>
<text transform="translate(1937 500.6) scale(1 1.025)" text-anchor="start">200</text>
<text transform="translate(1937 595) scale(1 1.025)" text-anchor="start">0</text>
<text transform="translate(1529.2 669.6) scale(1 1.025)" text-anchor="middle" font-size="30.1">Time(s)</text>
<text transform="translate(1047.6 313.9) rotate(-90) scale(1 1.025)" text-anchor="middle" font-size="30.47">Confining pressure(MPa)</text>
<text transform="translate(2021.3 302.4) rotate(-90) scale(1 1.025)" text-anchor="middle" font-size="28.4"><tspan font-style="italic">N</tspan>(times)</text>
<text transform="translate(1160.8 55.6) scale(1 1.025)" text-anchor="start" font-size="30.5">(b)</text>
<polyline points="1147.3,60.5 1161.1,133.7 1175.4,138.9 1190.7,64.5 1195.5,61.5 1204.8,59.1 1207.8,65.2 1235.5,212.1 1239.6,217 1251.8,220.2 1281.5,64.6 1286.3,61.3 1296.5,59.3 1299,63.3 1342,294.2 1346.1,298.3 1357.5,301.1 1403,65.8 1407.5,61.7 1418.9,58.9 1421.3,63.3 1434.4,140 1478,363.4 1481,372.5 1486,378.8 1494.6,381.3 1502.6,356.4 1556.8,65.8 1562.3,61.6 1574.5,58.6 1577,62.8 1650.8,458.5 1653.5,462 1667.5,464 1742,65.8 1747.5,61.6 1758,58.6 1761,62.8 1764.6,88 1835.2,458 1838,463" fill="none" stroke="#3838ff" stroke-width="0.6" stroke-linejoin="round"/>
<path d="M1177 360.9h0M1174.9 409h0M1173.5 426.5h0M1162 454.7h0M1182 458h0M1171.5 482.8h0M1174.5 485.4h0M1170.9 496.2h0M1169 502.5h0M1163.2 513.9h0M1164.5 515.5h0M1157.4 527h0M1162.2 527.3h0M1164 528.5h0M1171 524.8h0M1168 534.3h0M1173.2 534h0M1181.1 534.3h0M1156.5 539.4h0M1164.4 538.8h0M1168 542.1h0M1167.3 552.4h0M1171.8 553.2h0M1173.2 555.4h0M1164.4 559.8h0M1167.3 559h0M1171 564.3h0M1168 566.5h0M1163.6 573.9h0M1172.5 576.8h0M1178.4 576.5h0M1167.3 580.5h0M1155.5 584.6h0M1158 583.3h0M1160.5 583.1h0M1163 584.7h0M1165 583.4h0M1167 583.3h0M1169 584.1h0M1171 583.7h0M1173 584.5h0M1175 583.5h0M1177 584.6h0M1179 583.6h0M1181 584.1h0M1183 584.6h0M1185.5 584.2h0M1162 584.6h0M1170 584.2h0M1176 583.2h0M1180 584.5h0M1249.8 282h0M1236.7 302.4h0M1245.3 326.1h0M1242.3 330.5h0M1249.7 343.5h0M1232.3 369.6h0M1250.2 393h0M1245.8 414.3h0M1245.8 416h0M1238.5 427.3h0M1250.6 428.5h0M1224.8 435.2h0M1241.5 440.2h0M1242.4 443h0M1239.1 444.4h0M1249.3 461.7h0M1249.7 466.1h0M1237.9 475.1h0M1261.1 476.5h0M1241.4 487.9h0M1237.1 489.3h0M1250.9 488.3h0M1229.6 493.8h0M1236.9 493.8h0M1248.3 494.2h0M1252.7 493.2h0M1261.1 491.3h0M1240.4 498.2h0M1241.2 500.7h0M1232.3 507.7h0M1239.7 506.6h0M1252.6 510.3h0M1250 514.8h0M1237 515.5h0M1236 519.2h0M1226.4 521.7h0M1230.1 520h0M1258.6 522.5h0M1248.9 525.1h0M1237.9 528.1h0M1230.1 530.6h0M1243.4 530.6h0M1249.6 531.8h0M1234.5 537.7h0M1249.3 538.7h0M1242.7 545.1h0M1253 544.8h0M1222 563.8h0M1261.1 567.7h0M1225 575.6h0M1240.1 551h0M1245.1 549.8h0M1251 551.6h0M1237.7 555.1h0M1238.1 556.3h0M1238.6 553.2h0M1250.7 557.2h0M1239.2 560.4h0M1239.8 556.7h0M1238.3 561.4h0M1248.9 563.7h0M1238.4 563.2h0M1234.2 562.7h0M1229.1 568.9h0M1239.5 568.7h0M1251.2 568.2h0M1238.3 566.4h0M1234.7 571h0M1237.7 568h0M1249 575.8h0M1235.2 571.5h0M1242.2 575.5h0M1247.2 572.7h0M1251.1 572.6h0M1239.7 571.2h0M1246.6 573.7h0M1245.8 572h0M1232.2 576.3h0M1230.5 580.8h0M1251 578.4h0M1248.4 578.8h0M1235.5 579.1h0M1256.2 578.5h0M1242.4 579.8h0M1238.5 580.1h0M1237.3 580.3h0M1228.4 576.1h0M1231.2 578.6h0M1238.3 576.9h0M1237.7 579.6h0M1243.1 584h0M1245.8 583.1h0M1247.6 582.6h0M1247.2 583.5h0M1246.2 581.8h0M1249.4 583.7h0M1245.4 584.5h0M1250.6 583.9h0M1244.5 583.2h0M1241.4 584h0M1248.8 583.8h0M1244.5 583.3h0M1243.4 583.7h0M1230.3 582.6h0M1244.2 581.6h0M1249.8 583.9h0M1228 583.4h0M1230.6 584.5h0M1233.2 584.1h0M1235.8 583.2h0M1238.4 583.9h0M1241 584.1h0M1243.6 583.2h0M1246.2 583.9h0M1248.8 583.1h0M1251.4 584.3h0M1254 583.1h0M1256.6 584.1h0M1259.2 584.7h0M1338 259.7h0M1346.1 297.1h0M1346.1 304.4h0M1325.9 326.1h0M1345.4 323.9h0M1347.6 332.6h0M1358.9 334.8h0M1348.9 344.8h0M1344.6 354.4h0M1344.6 379.7h0M1350 381h0M1354.6 380.5h0M1356.6 382h0M1356.5 391.8h0M1342.3 401.2h0M1359 404.2h0M1347.8 409.7h0M1336 420.4h0M1344.8 417.8h0M1351.7 418.4h0M1356 419.4h0M1341.5 422.7h0M1352.7 434.2h0M1344.8 437.1h0M1347.2 438.5h0M1342.9 444.4h0M1356 448.5h0M1342.9 448.9h0M1344.8 453.9h0M1340.9 454.8h0M1338.5 458.2h0M1344.8 457.8h0M1338.3 466.1h0M1346.8 466.7h0M1341.9 470.6h0M1346.8 471.6h0M1379.3 466.7h0M1348.8 475.9h0M1356 476.5h0M1333.6 482.8h0M1345.8 481.4h0M1344.8 486.4h0M1338.9 491.7h0M1350.7 489.9h0M1352.7 493.8h0M1357 497.6h0M1368.9 501.5h0M1340.9 499.2h0M1337.9 502.1h0M1351.7 503.1h0M1355.7 504.1h0M1342.9 510h0M1338.9 513.9h0M1346.8 513.9h0M1322 523.2h0M1317.7 552h0M1318.7 581h0M1324.6 581.2h0M1325.4 584h0M1327.6 569.4h0M1325.4 573.1h0M1369 502.2h0M1363 530.6h0M1366.7 535.5h0M1369.7 570.6h0M1388.9 583.8h0M1347.2 500.6h0M1353.1 501.4h0M1347 505.5h0M1346 506.6h0M1350.7 510.2h0M1335.4 509.4h0M1350.7 508.8h0M1341.1 512.6h0M1350.6 514.8h0M1340.9 515.3h0M1349.2 519.5h0M1352.7 519h0M1340.3 516.8h0M1352.9 520.2h0M1343.7 522.1h0M1350.2 523.9h0M1351.6 523.5h0M1353.7 526.1h0M1347.3 527.8h0M1345.8 526.7h0M1351.2 524.4h0M1335.9 528.7h0M1346.8 531.6h0M1339.5 531h0M1351.9 529.3h0M1357.2 535.6h0M1343.5 535.2h0M1343.9 533.1h0M1342.5 533h0M1352.4 536.1h0M1344.8 537.3h0M1353.2 537.3h0M1351.8 536.7h0M1340.5 537.4h0M1348.5 541.2h0M1333.8 543.8h0M1343.8 541.5h0M1351.7 542.1h0M1348.2 541h0M1351.3 544.6h0M1354.5 547.3h0M1353.8 547.2h0M1352.9 546h0M1353.5 545.5h0M1350.3 547.7h0M1337.8 548.2h0M1350.5 550.7h0M1351.8 549.4h0M1337.6 549.1h0M1350.9 548.6h0M1348.1 549.8h0M1348.8 549.9h0M1342.9 554.5h0M1350.3 554.3h0M1346.3 554.8h0M1353.5 555.7h0M1344.1 554.2h0M1354.7 552.7h0M1334 554.2h0M1357.6 555.3h0M1357.8 556.9h0M1338.2 558.1h0M1344.1 558.4h0M1339 557h0M1341.4 559.2h0M1345.9 557.5h0M1358.7 556.9h0M1347 557.7h0M1357.3 556.2h0M1357.7 558.4h0M1349.3 563h0M1344.4 563.2h0M1349.1 561.6h0M1352.9 562.9h0M1348.6 561.9h0M1349.7 563.6h0M1359.3 562.2h0M1364.9 560.7h0M1355 562.1h0M1353.3 560.8h0M1356.9 561.1h0M1353.5 562h0M1336.6 562.6h0M1352.8 565.2h0M1350.6 565h0M1346.8 564.7h0M1353.7 568.5h0M1339.6 567.2h0M1344.3 567.7h0M1356.5 565.4h0M1351.7 564.6h0M1340.8 565.9h0M1344.5 568.4h0M1347.1 568.5h0M1347.6 567.5h0M1344.1 568.6h0M1347.7 568.5h0M1346.6 571.6h0M1351.4 572.6h0M1343.7 571.5h0M1353.7 572.3h0M1352.5 571.7h0M1355.3 569h0M1352.2 572.5h0M1342.3 570.8h0M1350 569.3h0M1350.6 570h0M1349.9 571.6h0M1333.8 570.2h0M1341.9 570.5h0M1337.1 569.2h0M1343.1 569.7h0M1350.6 573.6h0M1355.1 577.2h0M1345.1 576.5h0M1350.7 576.8h0M1346.4 575.4h0M1354.4 574.6h0M1350.2 577h0M1351.5 574.8h0M1345.5 573.7h0M1350.5 575.1h0M1357.6 573.9h0M1345.8 577.2h0M1343.9 575.4h0M1335.7 574.8h0M1355.8 574.4h0M1354.7 574.3h0M1354.5 576.5h0M1347.7 578h0M1342.6 579h0M1334 578.5h0M1362.1 578.6h0M1353.5 581.9h0M1355.4 581.8h0M1350 579.8h0M1352.5 580.2h0M1356.9 581.1h0M1355.7 577.7h0M1346.9 581.1h0M1336.1 579.8h0M1338.9 578.3h0M1352.1 579.9h0M1350.2 577.9h0M1357.6 578.4h0M1360.3 578.7h0M1353.5 580.1h0M1343 578.2h0M1349.7 584.3h0M1345.8 584.6h0M1339.5 582.2h0M1344.1 583.7h0M1365.6 582.5h0M1334.3 582.5h0M1358.3 582.6h0M1350.1 583.8h0M1350.1 582.5h0M1365.8 583.4h0M1335.1 584.1h0M1339.4 583.5h0M1349 582.6h0M1358.7 583.3h0M1352.6 583.3h0M1363.6 584.6h0M1356.6 584.4h0M1336.7 583.8h0M1357.9 584.3h0M1351.4 583.7h0M1350.8 582.5h0M1331.5 583.7h0M1334.2 584.4h0M1336.9 583.9h0M1339.6 583.9h0M1342.3 584.3h0M1345 583.2h0M1347.7 583.7h0M1350.4 583.9h0M1353.1 583.9h0M1355.8 584.2h0M1358.5 584.6h0M1361.2 584.4h0M1363.9 584h0M1366.6 584.2h0M1369.3 584h0M1480.7 217h0M1487.6 219.8h0M1498.9 233.3h0M1486.7 240.2h0M1477.6 263.7h0M1484.3 261.5h0M1488.8 270h0M1482 285.5h0M1483.4 287.5h0M1484.8 298.4h0M1476.6 305.5h0M1481.4 304.4h0M1486 308.4h0M1474.3 311.9h0M1481.8 313.1h0M1493.9 311.9h0M1499.6 309.6h0M1503.8 309.1h0M1487.3 328.5h0M1501.9 330.4h0M1480.7 338.6h0M1486 338.6h0M1475 341.5h0M1483.7 345.7h0M1477.8 350.4h0M1488.5 351.6h0M1473.1 355.7h0M1496.7 356.4h0M1471.9 389.8h0M1471.5 400.3h0M1519.6 430.2h0M1523.9 479.3h0M1506.2 481.6h0M1508.5 486.8h0M1468 512.6h0M1468.7 522.2h0M1462.8 538.1h0M1467.6 552h0M1467 559.4h0M1444 568.2h0M1455.5 567.7h0M1446.6 576.4h0M1443.6 584h0M1449.5 582.4h0M1457.7 584h0M1461.4 579h0M1512.8 523.6h0M1517.9 522.6h0M1507.9 528.1h0M1507.1 531h0M1520.1 535.5h0M1519.7 547.6h0M1507.9 552.4h0M1508.3 560.6h0M1514.5 572.8h0M1516 582.5h0M1519.5 580.2h0M1521 584.2h0M1524.5 583.5h0M1529.3 582h0M1532 584.2h0M1535 584h0M1534.6 557.3h0M1551.5 515.2h0M1552.5 551.7h0M1561.4 556.4h0M1546.7 571.6h0M1544.8 577.5h0M1544 579.8h0M1550 582h0M1550 584.6h0M1556.9 584.2h0M1598.3 504.4h0M1594.3 560.3h0M1602.4 573.9h0M1582.9 581h0M1589.9 583h0M1596.5 582h0M1598 584.2h0M1607.6 584.2h0M1611.3 580.5h0M1551.1 514.7h0M1493.6 358.4h0M1482 363.1h0M1491.1 361.5h0M1485.1 366.8h0M1481.9 364.1h0M1484.9 371h0M1485.6 368.1h0M1476.9 370.7h0M1477.9 374h0M1496 374.3h0M1491.6 373.1h0M1489 373.1h0M1485.8 372.4h0M1488 380.7h0M1498.7 379.6h0M1486.3 377.7h0M1489 377.4h0M1485 379.6h0M1483.7 383.4h0M1500.4 386h0M1487.5 386.1h0M1475.6 385.4h0M1480.3 389.1h0M1487.6 387.1h0M1483.7 386.9h0M1485.9 388h0M1482.5 391.2h0M1486.3 391.8h0M1484.1 391.6h0M1491.4 391.2h0M1483.9 397h0M1480 398.3h0M1486.5 396.1h0M1485.2 396.6h0M1485.3 400.5h0M1487.6 401.3h0M1489.8 399.5h0M1481 398.7h0M1488.1 404.9h0M1484.8 405.2h0M1483.5 403.1h0M1486.3 402.8h0M1483.2 404.5h0M1501.9 410.3h0M1481.6 409.2h0M1484.3 410.3h0M1486 410.6h0M1491.5 412.6h0M1485.4 413.4h0M1489.9 414.3h0M1477.2 414.1h0M1488.1 412.4h0M1498.9 415.9h0M1485.9 417.9h0M1480.4 418.1h0M1478.3 418.9h0M1492.7 417.1h0M1487.1 423.4h0M1493.7 421.8h0M1492.5 421.1h0M1491.8 420.2h0M1495.3 421.3h0M1485.4 426h0M1495.2 425.6h0M1492.5 427.4h0M1473.3 424.1h0M1484.2 426.3h0M1488.1 431.1h0M1474.7 427.7h0M1489 430.1h0M1475.9 428h0M1494.8 427.9h0M1484 433.4h0M1494.6 435.8h0M1477.7 435.2h0M1477.8 435.3h0M1481.8 433.8h0M1489.5 439.5h0M1489.8 439h0M1497.8 439.1h0M1490.2 436h0M1479.8 438h0M1495 440.4h0M1486.4 441.4h0M1502.6 441.9h0M1482.3 441.7h0M1484.2 442h0M1497.3 440.7h0M1476.8 447h0M1494.9 446.5h0M1481.8 446.6h0M1479.5 447.9h0M1473.5 448h0M1496 445.6h0M1496 448.4h0M1501.1 450.1h0M1478.8 450h0M1492.3 451h0M1492.4 452h0M1496.1 449.1h0M1482.5 452.5h0M1493 454.5h0M1487.8 453.9h0M1499 455.4h0M1487.1 452.6h0M1472.2 455.2h0M1487.3 456.4h0M1487.7 459.1h0M1490.2 457h0M1486.8 457.6h0M1497.4 459.4h0M1492 459.4h0M1498.9 460.6h0M1480 463.4h0M1501.9 463h0M1480.5 463.3h0M1486.3 462.7h0M1487.1 462h0M1489.8 463.5h0M1490.7 464.2h0M1499.4 465.2h0M1488.7 467.5h0M1475.2 464.2h0M1490.2 467.1h0M1489.9 465.9h0M1495.2 469h0M1484.8 468.6h0M1488.1 468.5h0M1491.4 471.9h0M1481.8 471.6h0M1495.2 471.9h0M1500.7 469.8h0M1483 473.1h0M1479 474.9h0M1488.7 472.1h0M1494.9 473.3h0M1488.7 472.8h0M1483.1 473.6h0M1486.9 472.2h0M1488.1 479.2h0M1489.6 478.8h0M1472.8 480h0M1486.6 477.8h0M1499.8 479.8h0M1475.1 479.1h0M1491.7 479.9h0M1487.9 478.6h0M1480 483.8h0M1487.4 482.9h0M1500.2 480.6h0M1494.8 482.4h0M1494.2 481.3h0M1483.8 482.3h0M1484.1 482.1h0M1486.5 486.2h0M1483.9 484.5h0M1475 486.8h0M1485.1 484h0M1482.2 486h0M1486.1 486h0M1473.3 485.2h0M1488.1 489h0M1490.8 488.6h0M1498.1 491.2h0M1484.2 491.1h0M1489.9 488.1h0M1483.7 488.1h0M1498.6 490.8h0M1478.5 489.3h0M1496.7 492.3h0M1485.9 493.4h0M1487.1 494.5h0M1486.9 494.1h0M1486.6 495.7h0M1479.1 492.5h0M1480.9 494.2h0M1490.6 492.9h0M1492.9 496.1h0M1486 498.9h0M1491.6 499.1h0M1501.5 499.5h0M1488.5 497.9h0M1474.9 499.7h0M1478.7 496.9h0M1486.1 497.5h0M1483.8 499.6h0M1487.4 500.1h0M1489 503.8h0M1476.7 503.3h0M1485.2 500.3h0M1491 503.3h0M1487.9 503.1h0M1478.7 502.7h0M1497.9 503.8h0M1494.2 502.7h0M1495.3 501.3h0M1489.8 504.9h0M1499 504.1h0M1489.5 504.6h0M1488 507.3h0M1492 505.5h0M1475.4 506.8h0M1486.8 506.9h0M1476 507h0M1498.3 506.7h0M1476.4 505.3h0M1480.4 505.5h0M1499.8 512h0M1471.8 509.7h0M1493.8 511.5h0M1479.4 509.8h0M1482.6 511.3h0M1500.1 510.8h0M1491.2 510.2h0M1476.2 510.4h0M1477.2 509.4h0M1476.7 509.2h0M1473.2 510h0M1485.7 513.1h0M1482.4 512.8h0M1485.7 515.5h0M1487 514.5h0M1485.8 514.4h0M1478.7 513.2h0M1483.6 513.1h0M1481.2 516h0M1495.5 512.6h0M1487.5 514.9h0M1486.1 514.5h0M1473.6 517.1h0M1473.1 516.4h0M1492.4 516.8h0M1493 518.2h0M1499.4 517.7h0M1485.8 517.7h0M1498.5 518.9h0M1493.2 516.4h0M1472.8 517.4h0M1478.1 518h0M1493.7 519.5h0M1493.9 516.6h0M1502.5 520.7h0M1489.8 520.1h0M1488 521.4h0M1483.5 521.1h0M1502.1 521.8h0M1471.7 523.7h0M1499 523.8h0M1479.8 521.4h0M1484.5 520.2h0M1478.5 522.8h0M1478.4 521.2h0M1473.9 522.4h0M1489.2 526.8h0M1497.2 527.7h0M1487 528h0M1495.8 524.4h0M1496.4 524h0M1473.2 526.7h0M1473.2 527.8h0M1496.3 525.3h0M1479.3 526.5h0M1504 527.7h0M1474.8 527.6h0M1472.2 524.7h0M1477.4 526.2h0M1502.7 528.3h0M1480.4 531.3h0M1498 530.9h0M1488.6 531.4h0M1498.6 530.1h0M1473.4 530.5h0M1495.1 531.6h0M1500.6 529.3h0M1500.8 529.8h0M1487.4 529.7h0M1494.8 530.6h0M1503.4 530.9h0M1488.9 531.7h0M1472.9 529.5h0M1496.8 535.6h0M1484.8 532.6h0M1475.3 532.3h0M1494.7 532.6h0M1485.3 533.2h0M1485.8 533.8h0M1490 534.7h0M1499 535.9h0M1491.7 533.7h0M1503.7 536h0M1494.8 532.6h0M1486.1 535.8h0M1478.7 533.1h0M1485.7 532.2h0M1492.6 535.9h0M1482.8 538.8h0M1479.3 538h0M1477 536.7h0M1475.4 538.6h0M1501.1 538.4h0M1477.6 537.4h0M1495 536h0M1497.1 539.6h0M1490.5 539.1h0M1487.3 538.2h0M1497.2 536.1h0M1494.4 538.9h0M1501.8 538.6h0M1492.6 538.8h0M1493.1 539.4h0M1483.6 536.2h0M1489.6 543.6h0M1476.1 542.8h0M1476.5 544.2h0M1486.9 540.2h0M1493.9 543.5h0M1475.6 540.8h0M1492.5 543.4h0M1486.2 543.5h0M1482.8 543.8h0M1477.8 541.4h0M1474.7 542.4h0M1474.9 542.8h0M1487.7 541.3h0M1476.1 541.4h0M1501.6 543.7h0M1494.7 543.5h0M1498.2 543.2h0M1485.3 542.4h0M1476 547.1h0M1475.2 548h0M1504.8 547.6h0M1480.9 544.6h0M1476.3 546.8h0M1484.4 544.5h0M1476.1 548.4h0M1474.8 545.4h0M1484.8 544.9h0M1498.7 546.2h0M1489.3 544.6h0M1502.4 544.3h0M1484.3 546.1h0M1491.7 545.7h0M1480.8 547.3h0M1492.3 548h0M1480.7 548h0M1502 547.9h0M1485.1 545.6h0M1500.9 551.4h0M1503.9 551.2h0M1479.8 549h0M1497.1 551h0M1490.9 549.1h0M1475.6 548.5h0M1482.2 548.9h0M1476.5 550.6h0M1497.8 552.4h0M1490.3 552.3h0M1497.8 551.6h0M1500.1 551.3h0M1504.7 550.5h0M1503.3 551.3h0M1492.1 550.3h0M1471.7 549.2h0M1486.1 551h0M1497.5 550.9h0M1498.9 552.4h0M1500 556.8h0M1475.4 554h0M1489 553.5h0M1474.5 556h0M1501.5 555h0M1500.3 554.7h0M1477.6 554.5h0M1501.6 553.5h0M1488.9 553.9h0M1472.1 554.4h0M1499.6 554.6h0M1483.1 556.1h0M1488 554h0M1496.9 556.7h0M1485.2 554.1h0M1504.4 556.2h0M1493.8 553.7h0M1473.2 555.8h0M1484.2 554.9h0M1482.7 555.5h0M1493.5 557.1h0M1500.1 560.5h0M1504.4 557.6h0M1503.8 561h0M1476.3 558.8h0M1471.6 559h0M1477.6 557.7h0M1494.4 558.1h0M1484.6 559.8h0M1490.5 558.1h0M1494.4 557.2h0M1473.6 558.1h0M1505 557.4h0M1498.6 558.7h0M1473 558.8h0M1494.8 558.2h0M1487.8 557.4h0M1485.2 557.3h0M1473.3 559.5h0M1499.5 557.5h0M1493.9 562h0M1485.1 561.3h0M1485 561.6h0M1505.6 564.7h0M1479.7 564.7h0M1477.2 564.3h0M1488.4 561.6h0M1472.4 563.9h0M1478 565h0M1493.6 564.7h0M1480.8 563.9h0M1494 561.4h0M1500.7 562h0M1493.3 564.6h0M1500.1 564.1h0M1502 562.3h0M1475.6 562.1h0M1485.3 562.4h0M1497.2 564.9h0M1484.7 562.8h0M1477.8 562.5h0M1484.9 566.3h0M1502.8 566.8h0M1479.8 569.1h0M1496.9 569.4h0M1501.3 566.4h0M1495.8 568.8h0M1477.8 566.3h0M1476.1 565.8h0M1477.1 566.3h0M1480 568.2h0M1500.8 568.2h0M1482.1 567.3h0M1472.9 568.5h0M1489.4 566.1h0M1478.1 568.6h0M1491.6 568.6h0M1475.5 568.4h0M1487.5 569.6h0M1472.7 566.7h0M1478.1 567h0M1473.2 566.1h0M1489.2 569.5h0M1499.5 567.8h0M1500.2 573.6h0M1484.1 571.9h0M1502.4 572.9h0M1483.9 573.4h0M1499.2 571.5h0M1484.4 570.1h0M1474.7 570.9h0M1475.8 571h0M1502.6 571.2h0M1502.3 572h0M1494.8 570.3h0M1472.2 570.4h0M1475.5 573.1h0M1493.6 573.7h0M1478.3 573.1h0M1481.3 571.3h0M1492.6 572.5h0M1472.3 573.1h0M1499.4 571.4h0M1485.3 569.8h0M1499.1 573.2h0M1480.7 570.7h0M1472.5 571.9h0M1485.5 577.3h0M1497.4 575.9h0M1475.2 574.9h0M1472.2 575.2h0M1503.8 575.6h0M1481.7 574.5h0M1491.1 575.8h0M1491.6 574.7h0M1505.1 577.5h0M1496.2 574h0M1499.1 574.7h0M1487.9 574h0M1476 575.5h0M1503.4 577.2h0M1481.7 576.6h0M1491 578h0M1489.5 576h0M1488.2 575.3h0M1488.6 577h0M1483.8 576.4h0M1485 574.3h0M1471.5 574.7h0M1479.7 575.7h0M1487.8 577.1h0M1504.8 581.2h0M1501.8 578.1h0M1483.3 578.8h0M1480.7 579.3h0M1496.7 582.2h0M1483.3 580.4h0M1504.6 579.7h0M1493.2 580.3h0M1490.3 578.8h0M1491.1 579h0M1488.3 578.7h0M1488.8 581.9h0M1477.1 579.3h0M1474.5 578.4h0M1495.7 581.3h0M1500 581.2h0M1498.9 581.6h0M1490 581.3h0M1480.8 578.8h0M1496.7 582.3h0M1472.6 581h0M1485.1 578.8h0M1505.8 578.2h0M1483.4 580.2h0M1492.6 582h0M1482 579.5h0M1482.4 584.6h0M1490 583.9h0M1495.5 583.7h0M1488.8 583.9h0M1487.4 584.4h0M1500.6 583.8h0M1502.1 583.4h0M1481.7 584.4h0M1491.9 583.9h0M1501.7 583.9h0M1503.5 582.4h0M1501.8 583.8h0M1472.1 583.7h0M1474.9 583.6h0M1506.6 584.1h0M1505.1 584.6h0M1487.9 582.4h0M1491.8 583.5h0M1477.6 584.3h0M1475.1 584.3h0M1477.8 584.3h0M1486.4 583.8h0M1473.8 584.4h0M1481.6 583.9h0M1487.6 582.8h0M1489.4 583.5h0M1504.7 583.5h0M1464 583.5h0M1466.7 583.3h0M1469.4 583.3h0M1472.1 584.3h0M1474.8 583.2h0M1477.5 584.5h0M1480.2 583.6h0M1482.9 583.7h0M1485.6 584.5h0M1488.3 583.4h0M1491 583.8h0M1493.7 584.5h0M1496.4 584.1h0M1499.1 583.5h0M1501.8 583.3h0M1504.5 584.4h0M1507.2 584.1h0M1509.9 584.6h0M1666.1 120.3h0M1642.7 136.9h0M1655.5 144.3h0M1673 152.7h0M1651.8 154.6h0M1656.7 161.6h0M1647.6 167.2h0M1652.5 173.9h0M1655.7 176.8h0M1649.3 178.1h0M1642.2 187h0M1655.5 186.7h0M1658.2 192.4h0M1636.5 201h0M1651.8 205.5h0M1656.2 206h0M1656.2 210.9h0M1655 213.4h0M1649.6 215.8h0M1645.9 220.3h0M1643.4 224h0M1663.1 222.5h0M1657 229.4h0M1642.7 231.9h0M1651.3 235.1h0M1674.2 238.5h0M1660.4 239.8h0M1652.5 242.2h0M1649.3 244.9h0M1643.1 244.7h0M1653.8 250.4h0M1669 251.9h0M1655.7 255.3h0M1647.6 254.8h0M1662.4 260h0M1645.1 259h0M1623.2 267h0M1637.4 287.8h0M1631.9 349.3h0M1638.5 332.3h0M1676.8 304.8h0M1675.2 269.4h0M1743 265.4h0M1623.2 423.7h0M1629.1 413.8h0M1633.8 409.5h0M1629.1 426.6h0M1620.3 459.6h0M1631.9 462.2h0M1620.3 472.6h0M1620.3 497h0M1620.8 505.3h0M1634.3 501.7h0M1598.4 504.1h0M1685.8 439.1h0M1681.5 447.4h0M1690.5 476.4h0M1685.8 482.8h0M1684.6 495.8h0M1689.3 505.3h0M1691.2 510h0M1733.6 486.8h0M1742.5 494.2h0M1743.2 498.2h0M1760.3 508.3h0M1740.2 511.6h0M1750.8 514.7h0M1620.9 505.9h0M1620.1 518.8h0M1623.1 538h0M1620.9 547.3h0M1625.3 543.6h0M1629.7 547.3h0M1625.8 552.4h0M1623.8 559.8h0M1689.6 505.9h0M1691.5 510.6h0M1693.3 518h0M1696.2 519.4h0M1692.6 541.8h0M1712.5 517.7h0M1721.4 519.2h0M1712.8 523.9h0M1716.9 531h0M1732.4 530.6h0M1740.6 512.3h0M1750.6 515.5h0M1759.8 508.9h0M1746 535h0M1737.3 539.4h0M1738.3 546.5h0M1742.8 551.7h0M1699.6 553.2h0M1704.4 557.6h0M1695.9 560.1h0M1717.4 552.7h0M1724.3 557.2h0M1715.7 560.1h0M1705.1 565h0M1714 566.5h0M1725.8 568h0M1739.8 571.9h0M1746.5 572.4h0M1655.4 251.1h0M1656.5 253.9h0M1652.1 254.5h0M1655.2 255.5h0M1658.5 260.6h0M1650.9 262.2h0M1645.8 265.8h0M1653.7 268.8h0M1661.1 268.2h0M1650.7 272.4h0M1652.5 270.1h0M1649.9 273.5h0M1655.7 276.9h0M1652.9 277.3h0M1655.6 281.8h0M1649.9 279.6h0M1656.6 279.9h0M1662.8 282.2h0M1665.1 284.2h0M1662.5 282.1h0M1662 286.1h0M1645.9 286.5h0M1659.6 287.4h0M1651.2 291.5h0M1660.4 293.4h0M1660.4 293.6h0M1658.9 295.7h0M1644.4 294.7h0M1666.7 296.7h0M1665.5 301.9h0M1654.9 299.1h0M1669 301.5h0M1644.4 302.9h0M1647.4 305.9h0M1672.2 303.2h0M1664.7 305.3h0M1653.5 308.3h0M1657.6 309.6h0M1643.7 309.3h0M1655.9 311h0M1646.7 310.1h0M1661.9 311.7h0M1656 310.7h0M1663 314.5h0M1667.7 317.4h0M1654.4 314.8h0M1655.2 317h0M1656.5 319h0M1659 320.3h0M1648.4 318.2h0M1668.4 321.9h0M1651.7 325.5h0M1649.7 323.7h0M1652.7 325.7h0M1664.3 324.7h0M1652.6 323.5h0M1665.4 329.8h0M1671.8 328.1h0M1640.8 326.2h0M1663.2 327.9h0M1661.4 327.2h0M1665.5 331.3h0M1651.9 331.5h0M1649.3 330.4h0M1661.7 333.5h0M1650.5 331.2h0M1659.9 337.9h0M1648.8 337.3h0M1654.5 336h0M1671.8 338.1h0M1659.2 335.5h0M1664.5 334.5h0M1664.7 341.6h0M1648.8 341.5h0M1652 342h0M1651 339.6h0M1660.6 340.9h0M1655.8 342.4h0M1651.1 344.3h0M1665.8 343.2h0M1652.4 344.5h0M1660.6 344.8h0M1644.9 342.6h0M1652 342.8h0M1671.6 349.6h0M1665 347.5h0M1650.6 348.1h0M1655.8 349.4h0M1653.9 346.9h0M1658.1 349.1h0M1665.2 348.9h0M1647.2 352.9h0M1658.1 352.6h0M1646.1 351.9h0M1649.9 353.1h0M1664.8 351.1h0M1640.7 352.6h0M1670.8 354h0M1669.4 355.4h0M1655.4 357.4h0M1650.9 357.7h0M1648.6 355.4h0M1667.6 358.3h0M1659.7 358.2h0M1649.8 358.8h0M1665.8 361.2h0M1645.6 361.4h0M1650 361.1h0M1659.9 359.5h0M1643.8 360.4h0M1661.4 362.8h0M1675 361.6h0M1643.9 362.8h0M1660.1 364.9h0M1661.6 363.4h0M1645.6 365.5h0M1673.3 363.7h0M1645.1 366.2h0M1654.2 364h0M1656.8 365.5h0M1667 366.8h0M1643.4 365.6h0M1659 367.9h0M1675.9 370.5h0M1650 369.9h0M1660.1 367.7h0M1651.4 369.6h0M1654.5 368.7h0M1662.2 371.5h0M1657.8 368.6h0M1654.5 370.8h0M1657.4 375.4h0M1670 371.7h0M1665.1 372.5h0M1654.6 373.6h0M1652.5 372.7h0M1658.4 374.6h0M1656.9 373.5h0M1661.3 373.8h0M1666.1 374.4h0M1646.3 378.4h0M1645.7 377.6h0M1651.4 379h0M1664.5 378.3h0M1662.2 378.9h0M1654.9 376.7h0M1648.2 376h0M1656.5 379.2h0M1650.4 378.3h0M1653.2 379.5h0M1652.1 384h0M1664.3 381.1h0M1649.8 380.7h0M1663.3 381.9h0M1662 382.7h0M1665.7 383.2h0M1657.7 383.1h0M1652.5 380.8h0M1661.3 381.9h0M1668.4 383.9h0M1660.5 382.4h0M1676.6 383.7h0M1644.8 386.6h0M1646.4 386.7h0M1658.8 384.5h0M1665.3 385.7h0M1642 385.3h0M1662.4 384.9h0M1655.5 387.6h0M1646.1 386.1h0M1650.9 386.6h0M1666.8 384.4h0M1663.5 386.7h0M1653.7 384.1h0M1664.8 389.8h0M1674.8 391.8h0M1661.3 391.1h0M1638.7 389.7h0M1666.8 389.5h0M1656.3 389.7h0M1655.8 391.4h0M1651.1 391.8h0M1669.2 390.9h0M1655.2 390.8h0M1660.1 390.6h0M1662.1 391.9h0M1642.6 392.8h0M1663 395.3h0M1656.2 393h0M1657.8 395.8h0M1645.5 394.1h0M1658.2 395.5h0M1650.9 393.1h0M1658.4 392.3h0M1648.7 392.6h0M1656.2 393h0M1657.7 392.2h0M1660.3 392.7h0M1671 394.7h0M1647.1 398.4h0M1666.5 397.8h0M1673.8 398h0M1664.4 396.7h0M1656.5 398.4h0M1656.9 397.2h0M1654.7 398.5h0M1653.1 397.7h0M1672 396.4h0M1657.6 399.4h0M1655 397.6h0M1664.8 398.6h0M1639 398.6h0M1654 400h0M1642.5 401.8h0M1657.2 402.8h0M1658.8 402.4h0M1677.1 400.6h0M1644.1 401.7h0M1648.8 401.5h0M1647.7 401.4h0M1646.4 401.4h0M1644.8 401.3h0M1657.4 403.5h0M1636.6 400.8h0M1660.9 401.3h0M1641.3 402h0M1661.8 401h0M1643 407.2h0M1662.7 406.7h0M1661.1 406.5h0M1665.7 405.3h0M1647.4 407.9h0M1651.9 404.4h0M1675.6 405.7h0M1643.2 404.2h0M1660 407.4h0M1676.7 407.3h0M1653 407.7h0M1653.3 405.7h0M1667.1 404.2h0M1664.3 406h0M1645.2 404.9h0M1654.4 408.8h0M1669.7 411.9h0M1667.2 409.8h0M1657.2 410.4h0M1655.1 409.5h0M1642.2 409.8h0M1650.9 409h0M1656.7 408.6h0M1650.5 410.4h0M1646.1 409.6h0M1655.4 408.3h0M1636.4 408.2h0M1661.8 412h0M1650.1 409.3h0M1656.8 410.3h0M1661.1 412.2h0M1657.1 413.9h0M1653.6 415.6h0M1662.9 415.1h0M1650.9 412.6h0M1673.1 414.8h0M1668.5 412.1h0M1656 412.1h0M1645.6 416h0M1670.8 415.6h0M1665.2 414.9h0M1642.4 414.5h0M1672.5 413.5h0M1673.7 412.6h0M1653.2 412.4h0M1662.2 417.3h0M1639.7 418.9h0M1663.7 416.2h0M1647.9 417.3h0M1650.5 419.5h0M1649.8 417h0M1639 417.5h0M1642.9 417.9h0M1656 419.4h0M1659.6 418.1h0M1663.4 418.3h0M1663.1 420h0M1649 416.7h0M1647.3 416.7h0M1661.3 417h0M1651.2 416.8h0M1663.3 421.3h0M1667.1 420.1h0M1651.4 420.7h0M1667.6 423.9h0M1645.1 421.8h0M1650.7 421.9h0M1668.3 423.1h0M1676.3 423.3h0M1652.5 421.4h0M1656.3 423.7h0M1657.8 423.8h0M1655 421.4h0M1646.5 422.4h0M1649.8 420.8h0M1669.3 423.4h0M1674.5 423.7h0M1648.5 423.9h0M1676.1 426h0M1661.7 425.6h0M1656.2 427.8h0M1673.6 425.5h0M1645.5 427.6h0M1651.1 426.3h0M1662.1 428.2h0M1656.4 425.5h0M1659.9 425.4h0M1644.4 427.9h0M1651.7 426.7h0M1652.9 426.3h0M1672.3 426.7h0M1655.6 427h0M1671.2 428.1h0M1658.4 426.4h0M1657.1 425.5h0M1666.9 426.1h0M1650.1 428.7h0M1656.6 428.6h0M1651 429.5h0M1661.8 429.2h0M1643.5 428.4h0M1670.3 429.6h0M1659.8 432.3h0M1654.5 428.8h0M1643.2 431.5h0M1657.2 429.8h0M1671.1 430.7h0M1678.1 430.2h0M1662.4 431.9h0M1663 431.8h0M1662.8 431.1h0M1643.7 428.5h0M1669.7 429.4h0M1674.7 432.1h0M1672.4 432.5h0M1648.1 433.8h0M1675 435.8h0M1641.7 435.4h0M1656.1 433.8h0M1655.1 434h0M1663.7 435.1h0M1649.1 435.3h0M1646 433.8h0M1662.4 434.3h0M1649.4 435.9h0M1657.1 433.6h0M1654.7 433.8h0M1659.5 435.3h0M1638.3 435.2h0M1643.7 433.9h0M1654.4 435.6h0M1676 434.4h0M1645.1 436.6h0M1644.8 433.3h0M1660.3 438.7h0M1657 439.8h0M1644.7 437.6h0M1661.1 437.4h0M1646.2 437.8h0M1652.3 437.1h0M1648.2 438h0M1645.5 439.3h0M1667 439.4h0M1651.4 439.8h0M1673.4 439.7h0M1670.7 440h0M1663.5 439h0M1642.4 440.1h0M1660.4 437.6h0M1660.2 438.1h0M1660.4 436.7h0M1651.6 439.4h0M1650.4 437.8h0M1658.9 437h0M1669.2 441.6h0M1650.1 441.6h0M1657.4 443.3h0M1661.7 441.3h0M1640.8 442.8h0M1655.3 444.4h0M1638.5 443.9h0M1665.4 442.7h0M1653.9 443h0M1661.2 441.6h0M1657.9 442.1h0M1660.4 443.3h0M1648.8 442.8h0M1661 441.5h0M1652.2 441.4h0M1655.2 442.1h0M1668.5 442.4h0M1660.4 441.6h0M1660.1 444.2h0M1643.2 444.3h0M1645.6 445.5h0M1643.4 448.3h0M1655.9 448.4h0M1656.4 447.1h0M1641.9 446.3h0M1653.9 447.3h0M1658.4 446.3h0M1640.6 445.4h0M1648.6 448h0M1650.6 448.9h0M1667 446.3h0M1653.6 447.3h0M1657.2 446.8h0M1652.8 447.3h0M1663.7 447.7h0M1648.2 448.1h0M1647.3 446.9h0M1642.4 448.4h0M1670.3 448.9h0M1644.4 445.3h0M1645.3 449.4h0M1658.6 451.5h0M1654 450.8h0M1658.7 451.4h0M1653.6 451.7h0M1651 452.8h0M1667.4 452.9h0M1654.9 451.2h0M1638.2 452h0M1659.5 449.3h0M1653 453.1h0M1646.9 450h0M1658.6 450h0M1654.2 450h0M1657.8 453.2h0M1677.3 450.3h0M1638 450.4h0M1673.4 450.4h0M1640.7 452.6h0M1678.8 452h0M1641.4 451.9h0M1676.9 456.2h0M1664.9 457.4h0M1677.1 457.3h0M1679.1 456.4h0M1646.6 453.9h0M1670.8 456.7h0M1651.4 454.6h0M1658.5 455.4h0M1656.4 457h0M1647 456.9h0M1644.8 456.6h0M1646.6 456.3h0M1671.8 456.6h0M1667.5 457.3h0M1667.1 453.5h0M1641.4 455.3h0M1649.9 454.2h0M1648.4 457.4h0M1669.5 456.3h0M1673 455.6h0M1663.8 457.3h0M1650.4 457h0M1674 460.9h0M1654.8 457.7h0M1675 459.5h0M1661.1 459h0M1662.7 461.4h0M1665.8 460.6h0M1653 460.4h0M1652.9 458.8h0M1655.1 460.9h0M1654.9 461.2h0M1657.7 458.4h0M1652.9 460.3h0M1653.3 458.6h0M1659.8 459.4h0M1672.8 460.8h0M1670.2 458.5h0M1653.6 461.2h0M1667.1 458.7h0M1655.7 459.3h0M1635.5 459.4h0M1651.4 460.5h0M1643.6 459.8h0M1652.6 462.3h0M1669.1 464.9h0M1657.7 464.2h0M1661.1 465.5h0M1676.4 465.4h0M1644.3 462.4h0M1662.8 464.1h0M1660.3 462h0M1645.8 462.1h0M1658.8 463.2h0M1666.9 465.3h0M1660 462.6h0M1669.9 465.6h0M1645 462.6h0M1665.9 465.7h0M1661 465.5h0M1663.2 465.1h0M1660.1 463.4h0M1678.8 464h0M1643 463.9h0M1660.4 463.1h0M1666 461.9h0M1665.5 462.5h0M1658.3 466.4h0M1649.2 466.1h0M1674.9 469.9h0M1666.9 466.8h0M1639.9 466.1h0M1652.6 466.3h0M1663.1 469.3h0M1644.6 467.9h0M1662.8 466h0M1667 466.2h0M1647 470h0M1646.5 468h0M1653.8 469.7h0M1675.3 467.4h0M1637 468.1h0M1668.4 468.9h0M1650.2 468.8h0M1656.2 468.3h0M1654.5 466.9h0M1647.4 466.7h0M1650.5 467.4h0M1656.2 469.3h0M1660.9 468.9h0M1656.5 467.7h0M1641.2 474h0M1650.4 471h0M1670.1 473.4h0M1659.4 470.5h0M1645.2 473.6h0M1647.7 471.1h0M1655.3 471.7h0M1667.8 473.2h0M1660.1 473h0M1644.8 470.8h0M1642.2 472.1h0M1669.1 473h0M1679.3 472.2h0M1656 470.4h0M1644.2 474h0M1666 470.6h0M1662.7 470h0M1650.5 472.5h0M1663.2 472h0M1638.2 471h0M1651.5 472.8h0M1651.5 472.8h0M1660.9 473.5h0M1660.1 472h0M1671.1 471.5h0M1667.6 474.7h0M1678.8 476.4h0M1664.4 476.4h0M1653.9 475.4h0M1663 474.7h0M1659.2 474.8h0M1656.6 475.7h0M1650.3 475.9h0M1649.8 475.7h0M1659.6 474.6h0M1665.1 476h0M1636.3 476.2h0M1663.8 475.5h0M1661.5 477.8h0M1669.6 478.2h0M1651.7 477.8h0M1650.7 478.3h0M1637.1 476.5h0M1663.7 476.2h0M1657 477.4h0M1647.5 475.7h0M1645.3 477.8h0M1661.8 474.6h0M1668.5 475.2h0M1677.4 477.4h0M1640.1 475.3h0M1660.8 474.3h0M1663.1 481.4h0M1654.7 480.5h0M1669.5 481.6h0M1652.7 480.8h0M1660.3 480.3h0M1675.4 481.5h0M1680.3 478.7h0M1644 480.4h0M1679.9 478.9h0M1658.9 481.6h0M1652.2 482.1h0M1648.5 482.7h0M1664 481.7h0M1642.4 481.3h0M1651.4 479.2h0M1669.6 481.8h0M1675.6 480.4h0M1644.4 482h0M1638.9 480h0M1674.6 479.5h0M1675.9 481h0M1665 480.2h0M1663.9 482.5h0M1640.7 482.7h0M1659.6 480.8h0M1659.8 482.3h0M1668.2 481.9h0M1663.6 483.2h0M1649.4 486.9h0M1653.1 485.2h0M1649.2 484h0M1646.1 483h0M1642.8 485.2h0M1639.8 485.3h0M1659.1 483.6h0M1655.9 483.5h0M1648.3 483.9h0M1677.8 483.8h0M1676.4 486.3h0M1663.2 483.4h0M1635.7 484.6h0M1665.8 484.7h0M1657.9 486.4h0M1651.5 483.4h0M1663.8 485.1h0M1650.9 486.9h0M1636.1 485.4h0M1655.6 483.3h0M1660.5 485.1h0M1664.7 484.6h0M1654.2 483.5h0M1654.8 485h0M1640.1 487h0M1672.8 483.7h0M1640.8 487.1h0M1650.9 491.3h0M1664.6 490.6h0M1658.6 488.6h0M1659.8 489.5h0M1654.5 490.1h0M1671.8 487.7h0M1659.9 489.5h0M1673.6 490.6h0M1641.1 489.8h0M1638.4 487.7h0M1643 491.1h0M1647.9 488.6h0M1642.4 488h0M1668.2 489.1h0M1636.5 488.7h0M1638.9 490.3h0M1668.7 487.6h0M1655.1 488.2h0M1669.8 490h0M1664.8 488.5h0M1679.5 487.9h0M1653 488.7h0M1641.9 489h0M1654.5 487.5h0M1647.2 490.5h0M1656.7 489.8h0M1647.4 490.7h0M1644.4 487.8h0M1663.1 488.7h0M1654.6 488.7h0M1675.9 494.6h0M1658.9 492.3h0M1652.5 493.5h0M1653.2 494.9h0M1671.7 492.7h0M1649.3 495.3h0M1651.1 491.5h0M1658.5 494.7h0M1666.3 494.8h0M1654.5 492.5h0M1645 492.8h0M1641.1 492.5h0M1673.4 492.5h0M1642.2 494.6h0M1661.8 493.3h0M1680.4 492.4h0M1656 491.9h0M1650.9 495.3h0M1673.7 494.4h0M1642.1 492h0M1635.1 494.7h0M1676.6 493.9h0M1662.4 495.1h0M1644.4 492.1h0M1676.1 493.3h0M1643.7 493.7h0M1665.5 494.7h0M1667.1 492.2h0M1640.9 491.6h0M1649.8 494h0M1649.5 495.5h0M1670.6 496.4h0M1655.4 496h0M1680.5 496.3h0M1643.1 499.3h0M1663.2 499h0M1656.3 496.2h0M1661.2 496.1h0M1669.9 496.8h0M1659.5 496.2h0M1643.9 499.2h0M1663.1 498.9h0M1668.1 495.7h0M1658.1 496.8h0M1656.7 499.3h0M1654.3 498h0M1654.4 498.4h0M1638.8 499.3h0M1660.9 495.9h0M1649.1 499h0M1679.7 499.3h0M1640.1 498.1h0M1656.9 498.6h0M1648.6 497.1h0M1657.6 498.1h0M1643.7 498.2h0M1658.8 499.1h0M1641 499.8h0M1661.9 498.1h0M1657.2 497.8h0M1635.7 498.1h0M1653.8 496.6h0M1672.5 499.8h0M1643.6 494.6h0M1647.1 494.6h0M1650.4 495h0M1653.7 495h0M1657.8 495.1h0M1660.6 495.4h0M1664 494.7h0M1667.5 495.5h0M1671.1 494.9h0M1643 497.6h0M1647 498h0M1650 498.5h0M1654 498.5h0M1657.3 497.8h0M1660.4 497.7h0M1663.9 497.7h0M1667.5 498.4h0M1670.3 497.9h0M1643.2 501.2h0M1647.2 500.9h0M1650.7 500.8h0M1653.8 501.4h0M1657.2 501.4h0M1660.4 501.3h0M1664.1 501.1h0M1666.9 501.3h0M1670.7 501.1h0M1642.2 504.1h0M1645.1 504.2h0M1649 504.5h0M1652.7 504.6h0M1655.2 504.4h0M1659.1 504.4h0M1662.3 503.9h0M1665.6 504.3h0M1669.5 504.6h0M1672.7 504h0M1640.9 506.9h0M1645.2 507.4h0M1648.3 507.1h0M1651.4 507.7h0M1655.3 507h0M1657.9 507.7h0M1661.5 507h0M1664.7 507h0M1668.3 507.7h0M1672.3 507.6h0M1642.5 510.1h0M1646.6 509.9h0M1649.8 510.3h0M1652.8 510h0M1656.7 510.3h0M1660.1 510.6h0M1662.9 510.1h0M1666.4 510.4h0M1670.4 510.7h0M1673.4 510.2h0M1643.1 513.2h0M1646.2 513.6h0M1650.3 513.7h0M1652.8 513.6h0M1656.4 513.4h0M1660.6 513.5h0M1663.2 513.6h0M1666.9 513h0M1670.5 513h0M1673.9 513.1h0M1641.2 516.3h0M1644.7 516.3h0M1647.5 516h0M1651.7 516.7h0M1655.1 516.9h0M1658 516h0M1661.3 516.2h0M1665.2 516.6h0M1668.4 516.1h0M1671.5 516.2h0M1675.3 516.9h0M1643.7 519.1h0M1647 519.9h0M1649.8 519.6h0M1654.1 519h0M1657.2 519.2h0M1660.3 519.6h0M1663.6 520h0M1667.2 519h0M1671 519.8h0M1674.5 519h0M1640.6 522.2h0M1644 522.5h0M1647.6 522.4h0M1651 522.9h0M1654.6 522.3h0M1658 522.9h0M1660.9 522.9h0M1664.2 522.1h0M1667.9 522.1h0M1671.1 523h0M1675.1 522.1h0M1640.2 525.3h0M1644.1 525.7h0M1646.9 526.1h0M1650.1 525.8h0M1653.6 525.5h0M1657 525.9h0M1660.5 525.5h0M1663.8 525.7h0M1667.8 525.3h0M1671.3 525.9h0M1674.6 525.8h0M1642.3 529.1h0M1645.7 529.1h0M1648.6 528.6h0M1652.5 528.7h0M1655.6 528.8h0M1658.7 528.4h0M1663 528.4h0M1666.1 528.6h0M1669 528.3h0M1672.6 528.3h0M1676.6 528.2h0M1639.9 531.4h0M1643.4 532h0M1646.8 531.6h0M1650.1 532.1h0M1653.6 531.6h0M1657.5 531.4h0M1661.1 532h0M1663.7 531.4h0M1667.8 531.9h0M1670.5 532.2h0M1674.1 531.6h0M1638.9 534.3h0M1642.6 535h0M1645.6 534.9h0M1649.2 535.1h0M1653 534.4h0M1655.9 534.8h0M1659.3 534.8h0M1663.1 535.3h0M1666.4 534.9h0M1669.5 534.5h0M1673 535.3h0M1676.7 534.3h0M1640 538.3h0M1643.4 537.4h0M1647.1 538.3h0M1650.1 538h0M1653.5 537.4h0M1657.1 537.9h0M1660.9 537.5h0M1664.5 537.5h0M1667.4 538.3h0M1670.4 537.4h0M1674.4 538.3h0M1677.5 537.5h0M1641.9 540.3h0M1644.9 539.7h0M1649 540.1h0M1652 540.1h0M1655.8 540h0M1658.7 539.9h0M1661.9 540.3h0M1666.1 540.2h0M1669.2 540.2h0M1673 540.1h0M1676 539.9h0M1638.7 543.1h0M1641.6 542.9h0M1645 543h0M1648.3 543.6h0M1652.5 542.9h0M1655.2 542.7h0M1659.4 543h0M1662.1 543.5h0M1666 543.5h0M1669.3 543h0M1672.3 542.8h0M1676.5 543.4h0M1640.1 546.1h0M1643.8 545.6h0M1647.6 546.1h0M1650.8 546.5h0M1654.2 546.3h0M1657.3 546h0M1661.2 545.7h0M1664.5 545.6h0M1667.8 545.7h0M1671.3 546.2h0M1674.8 546.6h0M1677.3 545.8h0M1637.4 548.7h0M1641 548.9h0M1644 549.6h0M1647.8 548.8h0M1651.1 548.7h0M1654.2 548.7h0M1658.4 548.7h0M1661.7 549.7h0M1665 549.6h0M1668.3 549.6h0M1672.1 549.6h0M1674.9 549.1h0M1678.5 548.9h0M1636.2 552.7h0M1640.2 552h0M1643 552h0M1646.6 552.5h0M1649.9 552.6h0M1653.4 552h0M1656.9 551.8h0M1659.9 552.7h0M1663.3 552h0M1667.4 552.6h0M1670.3 551.8h0M1673.6 552.2h0M1677.1 552.5h0M1637.6 555.5h0M1641.6 555.6h0M1645.1 555.7h0M1648.6 555.6h0M1651.9 554.8h0M1655.3 555h0M1658.1 555.6h0M1662.2 555.2h0M1665.7 555.2h0M1668.6 555.6h0M1672 555h0M1675 555.3h0M1679 554.9h0M1637.3 558.4h0M1640.5 558.8h0M1644.1 558.4h0M1648.2 558.6h0M1651.4 558.5h0M1654.3 558.1h0M1658.1 558.4h0M1661.3 558.5h0M1664.2 558.4h0M1668.4 558.3h0M1671.6 558.5h0M1674.6 558.2h0M1678.1 558.3h0M1636.1 561.5h0M1638.7 561.7h0M1642.8 561.2h0M1646.2 561.1h0M1649.6 561.8h0M1652.2 561.6h0M1656.6 561.5h0M1659.1 561.6h0M1662.6 561.2h0M1666.1 561.6h0M1669.9 561.4h0M1673.5 561h0M1676.4 561.7h0M1679.4 561.3h0M1634.6 564.6h0M1637.3 564.3h0M1640.8 564.8h0M1644.2 564.4h0M1647.8 564.8h0M1651.4 564.1h0M1655.1 564.1h0M1657.8 564h0M1661.6 564.7h0M1664.5 564.8h0M1668.8 564.7h0M1671.7 564.1h0M1674.9 565h0M1678.3 564.3h0M1681.5 564.6h0M1634.6 564.8h0M1637.4 564.5h0M1641.2 565.4h0M1644.3 564.9h0M1647.7 565.3h0M1651.3 565.4h0M1655.1 565.2h0M1658.1 565.4h0M1661.3 564.7h0M1664.6 565.3h0M1667.9 565.4h0M1671.3 565.1h0M1674.8 564.8h0M1678.1 565.4h0M1681.7 565.2h0M1632.1 568.2h0M1636.3 568.4h0M1639 568.2h0M1643.1 568h0M1645.6 568.6h0M1649.1 568.3h0M1653.1 568.5h0M1656.6 568.3h0M1659.7 567.7h0M1663 568.5h0M1666 568.3h0M1669.5 567.9h0M1673.3 567.6h0M1676.3 567.7h0M1680.3 568.2h0M1683.4 567.9h0M1633.4 571.2h0M1636 570.8h0M1640.2 571.5h0M1643 571h0M1646.1 571.6h0M1649.5 571.6h0M1653.4 571.4h0M1656.4 571.5h0M1659.7 571h0M1663.4 570.8h0M1667.2 571.1h0M1670.1 570.7h0M1673.3 571.5h0M1677.1 570.9h0M1680.5 571.1h0M1632.8 574.2h0M1635.4 574h0M1638.8 574.6h0M1642.1 574.7h0M1645.8 573.8h0M1649.7 574.6h0M1652.9 574.6h0M1656.6 574.6h0M1659.5 574.4h0M1663 574.6h0M1665.9 573.8h0M1669.9 574.3h0M1673.3 574.4h0M1676.8 574.4h0M1679.9 574.1h0M1683.7 574.5h0M1631.3 577.5h0M1635.3 577.5h0M1638.2 577.6h0M1641.5 577.7h0M1644.8 577.4h0M1648.7 577.2h0M1652.5 577h0M1655.2 576.8h0M1659.2 576.8h0M1662.7 577.7h0M1665.5 577.5h0M1669.2 576.9h0M1672.1 577.6h0M1675.8 577.1h0M1679 577.7h0M1682.2 577.4h0M1630.1 580.3h0M1633.5 580.7h0M1636.9 580.5h0M1640.2 580.2h0M1643.8 580.6h0M1647.2 580.4h0M1650.6 579.8h0M1654.3 580.3h0M1657.7 580.2h0M1660.8 580.3h0M1664.6 580.1h0M1667.8 580.6h0M1671.2 580h0M1674.4 580.5h0M1677.7 580.6h0M1681.9 580.7h0M1684.9 580.6h0M1630.3 583.5h0M1633.3 583.5h0M1636.8 583.4h0M1639.5 583.3h0M1643.2 583.5h0M1647 583.4h0M1650.4 583.2h0M1653.9 583.5h0M1656.6 583.7h0M1660 582.9h0M1664.3 582.9h0M1667.6 583.8h0M1670.2 583.2h0M1674.1 583.7h0M1677.1 583.1h0M1680.5 583.2h0M1683.9 583.5h0M1627.4 584.5h0M1631.3 583.9h0M1634.7 584.2h0M1638 584.3h0M1641.7 583.9h0M1645.3 584h0M1648.7 584.7h0M1651.8 584.7h0M1655 584.6h0M1659 584.5h0M1662.2 584.4h0M1665.6 583.7h0M1669 584.2h0M1671.9 583.5h0M1676 583.7h0M1679.3 584.3h0M1681.9 583.9h0M1685.3 583.9h0M1670.8 498.6h0M1660.3 498.2h0M1646.9 495.6h0M1652.3 495.4h0M1655 497.4h0M1663.1 497.7h0M1658.4 496.1h0M1675.2 496.8h0M1664.3 498.3h0M1664 495.3h0M1654.7 497.8h0M1672.1 496.1h0M1656.2 498.3h0M1653.8 495.7h0M1648.1 496.8h0M1667.8 502.8h0M1666.6 500.8h0M1671.3 499.7h0M1667.8 500.3h0M1656.9 500.1h0M1645.9 501.3h0M1652.8 502.6h0M1641.9 499.3h0M1674.8 499.2h0M1646.8 500.9h0M1663.7 500.7h0M1648.7 499.4h0M1638.8 503.2h0M1660.1 499.4h0M1648.1 501.7h0M1662 506.5h0M1669.9 505.1h0M1673.8 506.9h0M1656.7 503.8h0M1672.7 507.3h0M1661 503.4h0M1647.8 506.9h0M1641.5 506.1h0M1656.5 506.2h0M1648.5 504h0M1652.6 504.3h0M1654.3 504.4h0M1671 507.4h0M1660.4 503.4h0M1661.7 505.4h0M1651.3 511.4h0M1658.7 508.6h0M1643.9 508.6h0M1670.2 510.7h0M1667.7 507.5h0M1641.9 509.9h0M1674.5 508.8h0M1667.1 510.6h0M1666.4 508.6h0M1665 507.7h0M1638.7 509.5h0M1639 509.9h0M1672.3 508.2h0M1644.7 508.7h0M1637.8 507.5h0M1658.8 508h0M1673.6 514.6h0M1642.2 511.8h0M1664.3 514.1h0M1673.1 515.4h0M1646.7 512.2h0M1636.5 512.6h0M1655.4 515.1h0M1673.5 511.8h0M1643.3 515.4h0M1663.6 512.2h0M1648.2 515.7h0M1673.9 514.2h0M1673.5 515.4h0M1672.5 513.3h0M1662.4 512.3h0M1655.7 514.1h0M1676.3 512.6h0M1660.1 519.3h0M1666.9 517.2h0M1653.9 519.2h0M1656.8 518.2h0M1645.1 517.7h0M1663.7 518.7h0M1659.5 516.7h0M1646.7 517h0M1637 519.7h0M1670.6 517.9h0M1663.1 516.8h0M1666.1 518.2h0M1650.3 519.5h0M1663.2 516.8h0M1655.6 516.7h0M1657.8 516.2h0M1653.8 517.4h0M1667.8 523.5h0M1675.9 520.7h0M1675.2 520.4h0M1676.8 521.7h0M1653.2 520.7h0M1637.5 522.2h0M1660.7 522.2h0M1669.5 524.1h0M1643.6 523.6h0M1671.2 520.9h0M1637.5 522.6h0M1646.9 524h0M1670.8 523.4h0M1669.4 523.6h0M1675.2 521.8h0M1638.6 523.3h0M1648.3 521.3h0M1643.2 521.7h0M1678.4 527.4h0M1678.5 524.4h0M1652.9 527.5h0M1657.5 524.5h0M1656.7 524.5h0M1675.3 525.3h0M1678 524.6h0M1672.3 526.4h0M1660.4 524.4h0M1661.4 526.9h0M1636 525.1h0M1649.6 527.8h0M1670.5 527.3h0M1649.2 525h0M1648.3 526.7h0M1653.4 525.2h0M1671.7 527.5h0M1652.3 525.3h0M1646 531.5h0M1667.3 532.2h0M1653.2 531.2h0M1666.2 530.2h0M1646.1 530.6h0M1645.2 529.1h0M1655.5 529.4h0M1655.2 530.1h0M1666.6 532.4h0M1658.2 531.4h0M1674.2 529.2h0M1638.5 529.4h0M1672.1 531.4h0M1642.3 531.7h0M1637.2 531.5h0M1667.5 530h0M1658.4 530.1h0M1678.7 532.5h0M1669 536h0M1675.2 536h0M1677.5 535.3h0M1656.2 533.5h0M1662.2 535.4h0M1668 534.9h0M1647.9 535.4h0M1644.9 533h0M1667.4 535.4h0M1674 534.6h0M1665.2 533.4h0M1667.7 532.7h0M1664.2 533.4h0M1656.6 533.2h0M1658.3 532.9h0M1655.7 535.6h0M1662.7 534.4h0M1666.1 535.3h0M1655.5 533.2h0M1651.2 535.7h0M1671 538.2h0M1667.3 538.3h0M1662.9 539.5h0M1667.9 539.8h0M1661 539h0M1648.5 538.9h0M1649 540.5h0M1671.1 539.3h0M1641.2 536.9h0M1669.1 538.3h0M1648.5 539.7h0M1656 538.7h0M1643 540.6h0M1653.6 540.8h0M1663 540.8h0M1637 537h0M1643.6 538.2h0M1636.5 539.5h0M1635 539.2h0M1648.3 537h0M1647.8 542.3h0M1636.1 543.1h0M1640.2 540.8h0M1669.9 541.1h0M1646.6 542.1h0M1638.2 542.2h0M1656.9 541.7h0M1673.9 543.3h0M1678 543h0M1660.2 543.2h0M1658.3 544.5h0M1675.7 544.5h0M1665.5 543.7h0M1659 542.1h0M1640.3 544.8h0M1680.2 543.1h0M1674.4 541.7h0M1640 544.5h0M1664.5 543.8h0M1669.5 541.6h0M1676.9 546.7h0M1651.1 548.1h0M1645.8 546.1h0M1654.3 546.5h0M1642.5 546.5h0M1660 546h0M1653.7 548.3h0M1641 548.4h0M1657.4 548.7h0M1677.6 545.5h0M1653 548.9h0M1640.8 545.7h0M1673.2 547.6h0M1639.1 549.1h0M1671.5 548.1h0M1666.7 545.2h0M1662.7 547h0M1654.9 545.8h0M1640.5 549.2h0M1645.7 545.4h0M1681.1 546.2h0M1680.1 551h0M1674.1 549.3h0M1671.4 550.9h0M1649.9 552.3h0M1647.7 551.3h0M1637.6 550.9h0M1661.4 551.1h0M1656.3 549.5h0M1677 550h0M1655.7 551.8h0M1682.2 550.3h0M1659 550.6h0M1643.2 550.2h0M1654.4 553.3h0M1650.3 552.8h0M1656 551.3h0M1662.3 552.7h0M1672.6 552.5h0M1658.4 552.5h0M1680.4 551.2h0M1675.8 550.8h0M1636.3 553h0M1649.6 550.3h0M1652.2 555.1h0M1659 554.4h0M1632.5 556.3h0M1633.7 554h0M1642.8 554.2h0M1648.3 553.4h0M1646 554.2h0M1645.9 555.4h0M1662 554.3h0M1668 556.3h0M1653.4 556.4h0M1640.3 555h0M1679.4 553.5h0M1643 557.5h0M1657.7 556.8h0M1664.4 556.1h0M1633.4 555.2h0M1650.1 553.4h0M1654.5 554.4h0M1678 554.8h0M1633.4 556.7h0M1640.1 555.5h0M1678.6 556.7h0M1633.5 555.2h0M1632.7 557.5h0M1641.7 561.6h0M1661.7 558.1h0M1650.1 560.2h0M1651.1 560.9h0M1680.9 559.5h0M1635.7 561.5h0M1666.1 560.5h0M1659 558.6h0M1661.9 559.2h0M1647.9 558.7h0M1671 561.3h0M1681.1 561.3h0M1653.3 560.2h0M1680.7 559.5h0M1664.9 559.9h0M1660.9 560.8h0M1677.5 559.6h0M1682.7 559.6h0M1657.9 560.9h0M1656.8 559.1h0M1655.5 560h0M1635 559.2h0M1678.4 557.8h0M1677.4 559.9h0M1657.8 563.1h0M1666.3 564.5h0M1639.1 564h0M1652.9 564.1h0M1641.7 563.7h0M1633.9 564.4h0M1646.7 563.7h0M1667.6 565.5h0M1667.8 562.2h0M1663.7 564.2h0M1655.1 562.1h0M1664.6 564.2h0M1679.1 564h0M1658.4 564.7h0M1680 564.8h0M1663.2 565.7h0M1647.1 564.2h0M1667.4 563.2h0M1645.9 562.6h0M1641.9 565.4h0M1631.4 564h0M1664.6 564.2h0M1666.1 561.7h0M1638.5 565h0M1664.6 565h0M1652.2 565.6h0M1646.4 566h0M1632.8 567.3h0M1655.5 566.5h0M1660.9 567h0M1644.9 569.9h0M1630.8 567.9h0M1633.8 566.6h0M1630.3 567.6h0M1680.4 568.2h0M1669.6 568h0M1663.6 567h0M1654.7 569.7h0M1669.3 569.9h0M1654.2 567.4h0M1666.4 567.2h0M1636.7 566h0M1682 566.1h0M1652 566.3h0M1641.4 569.4h0M1629.2 567.5h0M1636.3 566.8h0M1664.6 566.8h0M1663.5 566.3h0M1684.9 569.4h0M1684.8 568.7h0M1645 569.7h0M1682.5 566.7h0M1650.1 570.9h0M1651.1 572.8h0M1640 570h0M1671.4 573.2h0M1638.5 570.9h0M1665.3 572.8h0M1627.2 573.9h0M1677.8 571.7h0M1668.4 572.4h0M1642.9 570.7h0M1667.6 572.7h0M1638.7 570.9h0M1651.6 573.6h0M1674.4 572.7h0M1636.3 573.1h0M1672.3 571.3h0M1666.1 572.5h0M1670.9 571h0M1681.4 572.3h0M1659.5 570.4h0M1637.2 572.9h0M1643.8 570.5h0M1637.4 573.9h0M1630.8 570.1h0M1664.8 570.8h0M1634.5 573.1h0M1681.4 573.7h0M1658.3 574.2h0M1663.1 571.6h0M1674.2 571.8h0M1626.1 575.7h0M1662.7 576.2h0M1678.7 575.2h0M1680.3 575.9h0M1678 576.5h0M1628.7 577.8h0M1634.7 575.2h0M1686.2 574.9h0M1647.6 575.1h0M1676.5 578.4h0M1647.4 575h0M1683.3 576.6h0M1638 576.3h0M1661.4 576.4h0M1648.7 577.4h0M1627 578.2h0M1656.4 577.7h0M1625.4 575.3h0M1683.3 575h0M1659.5 575.7h0M1672.3 576.7h0M1648.2 575.5h0M1643.6 576.7h0M1641.8 575.4h0M1683 577.4h0M1671.1 576.9h0M1646.3 574.4h0M1666.7 576.2h0M1644.1 577.9h0M1665.4 575.9h0M1675.7 576.8h0M1639.6 575.7h0M1647.5 581.6h0M1650.8 581.4h0M1670.9 578.6h0M1651.4 581.4h0M1660.5 580.9h0M1628.9 582h0M1654.4 580.8h0M1630.5 580.4h0M1641.4 581h0M1646.3 580.1h0M1681.7 582.3h0M1650.5 580.8h0M1649.7 579.7h0M1642.1 581.7h0M1623.6 580.4h0M1682.5 582.7h0M1651.7 581.6h0M1631.7 579.6h0M1640.9 580h0M1651.3 582.2h0M1653.6 581.7h0M1638.3 580.3h0M1658.8 580.5h0M1647.4 581.3h0M1684.1 578.7h0M1670 581.7h0M1629 581.9h0M1639.7 581.6h0M1687 581.7h0M1658 580.8h0M1669.6 578.6h0M1668.3 579.5h0M1683.3 580.7h0M1680.8 581h0M1637.9 579.2h0M1659.4 583.5h0M1638.6 584.6h0M1684.7 584.2h0M1667.3 584.5h0M1683.5 583.8h0M1646 584.1h0M1661.1 584.1h0M1654.1 584.6h0M1645.3 584.4h0M1659.1 584.4h0M1667 584.6h0M1643.4 583.9h0M1654.7 583.9h0M1659.1 584.6h0M1624.8 583.7h0M1652.7 584h0M1626.7 584.5h0M1677.8 583.5h0M1621.2 582.8h0M1641.3 583.6h0M1649.4 583.8h0M1682.6 584.6h0M1634.3 584.2h0M1669.9 582.8h0M1621.4 583.8h0M1623 583.3h0M1628.1 584.2h0M1657.1 584.3h0M1641.6 583.7h0M1672.1 583.7h0M1644.2 583.2h0M1660.6 583.6h0M1686.1 584.3h0M1648.2 584h0M1675 584.6h0M1643.3 583.7h0M1682.9 584.3h0M1688 584.6h0M1652.8 583h0M1723 564.9h0M1741.9 565.6h0M1703.3 562.6h0M1735.8 563.2h0M1720.7 567.7h0M1717.4 569.5h0M1722.7 569.9h0M1717.7 567h0M1713.4 566.9h0M1718.7 569.9h0M1709.1 570.5h0M1715.4 571.4h0M1726.3 573h0M1709.7 573.8h0M1725.6 570.2h0M1707 570.8h0M1704.2 573.9h0M1714.7 570.5h0M1725.7 575.3h0M1705 575h0M1691.7 577.9h0M1720.5 577.8h0M1729.6 577.9h0M1715 576.4h0M1704.7 575.6h0M1730 576.8h0M1732.7 574.5h0M1716.9 577.8h0M1701.9 580.3h0M1705.8 580.4h0M1726.2 580.1h0M1729.6 582.6h0M1697.9 581.9h0M1734.5 579.1h0M1713 581.1h0M1730.4 581.4h0M1726.7 579.1h0M1720.7 582.1h0M1707.6 579.4h0M1730.5 582.2h0M1739.1 582.3h0M1724 583.6h0M1710.3 583.8h0M1712.6 583.7h0M1705 583.7h0M1731.7 584.7h0M1712 584.6h0M1712.7 583.1h0M1714.9 583.9h0M1692 583.9h0M1706.5 583.6h0M1715.2 584.4h0M1720.6 584.7h0M1719 584.3h0M1703.6 584.1h0M1736.8 583.5h0M1705.3 584.6h0M1728.7 584h0M1690 583.5h0M1692.9 584.7h0M1695.8 584.5h0M1698.7 584.5h0M1701.6 583.7h0M1704.5 584.6h0M1707.4 583.8h0M1710.3 584h0M1713.2 584.7h0M1716.1 584.2h0M1719 583.7h0M1721.9 583.8h0M1724.8 583.6h0M1727.7 584.2h0M1730.6 583.8h0M1733.5 583.6h0M1736.4 584h0M1739.3 584.3h0M1742.2 583.8h0M1745.1 583.8h0M1753.9 583.8h0M1763.5 583.8h0M1765.4 574.9h0M1772.8 583.8h0M1780.4 582.7h0M1784.9 584.2h0M1791.5 583.8h0M1794.2 574.9h0M1796 521.9h0M1795 542.8h0M1813.7 534h0M1809.7 552h0M1818.1 559.1h0M1804.8 571.9h0M1818.6 569h0M1806.6 502.7h0M1813.7 500.7h0M1820.3 500.7h0M1818.8 514.3h0M1823.3 520h0M1830.7 513.3h0M1827.7 574.8h0M1816.9 575.5h0M1826.8 577.7h0M1817.7 576.6h0M1799.6 581.4h0M1811.9 579.6h0M1800.2 581.9h0M1824 580.8h0M1815.6 579.8h0M1810.6 580h0M1814.4 583.7h0M1820.7 584.2h0M1808.7 583.9h0M1818.7 582.9h0M1807.3 583.7h0M1810.4 582.9h0M1820.5 583.2h0M1819 584.6h0M1825.6 583.8h0M1853.6 112.7h0M1830.9 191.7h0M1836.8 191.7h0M1860.8 153.7h0M1859.5 185h0M1862.5 220h0M1837.6 223.2h0M1830 320.9h0M1828.8 344h0M1835.9 349h0M1866.4 290.7h0M1866.4 339.3h0M1827.6 380.5h0M1834.7 363.5h0M1824 417.8h0M1827.6 429.6h0M1826.4 437.9h0M1824.8 443.8h0M1827.6 462.7h0M1806.3 478.1h0M1827.6 482.1h0M1830 488.7h0M1806.8 502.2h0M1813.9 499.8h0M1820.5 499.8h0M1819.3 513.5h0M1867.8 416.6h0M1867.1 436.7h0M1874.9 437.9h0M1867.8 445h0M1867.1 462.7h0M1876.8 467.5h0M1868.3 475.7h0M1874.9 480.4h0M1874.4 486h0M1873.7 492h0M1872.5 498.2h0M1874.9 500.5h0M1877.2 508.8h0M1853.4 111.1h0M1852 114.1h0M1848.4 118.5h0M1853.1 119.1h0M1850.2 122.1h0M1855.6 123.9h0M1852.3 122.1h0M1851.6 128.5h0M1857.3 128.9h0M1850.7 127.6h0M1854.3 126.8h0M1850.8 131.6h0M1852.5 131.3h0M1853.5 132.7h0M1843 129.6h0M1850.5 137h0M1851.4 133.9h0M1853.5 136.1h0M1848.5 136.4h0M1844 139.6h0M1848.4 139.5h0M1854.6 138.5h0M1849.9 141.7h0M1842.3 138h0M1847.9 144.1h0M1854.9 144.8h0M1850.6 143.8h0M1851.8 145.4h0M1847.1 144.3h0M1846.4 149.6h0M1849.6 148.1h0M1843.5 149.8h0M1852.3 149.3h0M1849 146.8h0M1848.7 149h0M1850.2 154.1h0M1857 151.2h0M1844.4 153.4h0M1846.9 153h0M1858.1 153.3h0M1845.9 150.6h0M1851.7 154.8h0M1846.6 155.3h0M1850.3 157.5h0M1858.9 158h0M1857.2 156.5h0M1853.5 154.8h0M1848.1 161.7h0M1853.2 158.5h0M1851.6 161h0M1847.4 159.9h0M1846.4 158.5h0M1847.7 159.4h0M1848.5 162.7h0M1847.3 164h0M1847 166h0M1842.1 164.9h0M1848.9 162.9h0M1846.8 162.7h0M1850.2 165h0M1856.6 169.5h0M1843.1 170h0M1849.3 167.2h0M1860.5 168.3h0M1858.5 168.4h0M1850.4 170.7h0M1841 173.7h0M1847.2 173.8h0M1851.5 174.3h0M1845 172.5h0M1851.3 174.3h0M1851 172.3h0M1839.8 172.4h0M1853.2 175.7h0M1848.4 175.6h0M1854.4 178.7h0M1850.3 179.1h0M1852.1 179.1h0M1846.6 175.1h0M1848.7 177h0M1849.7 182.1h0M1849 181.8h0M1854.9 179.2h0M1842.1 182.2h0M1848.5 179.8h0M1851.8 179.6h0M1854.6 180.8h0M1848 185.2h0M1846.5 185.8h0M1856 184.6h0M1851.5 184h0M1855 185.1h0M1847.1 185.3h0M1850.1 185.4h0M1842.1 188h0M1850 191.1h0M1847.1 190h0M1850.4 188.6h0M1851 189.2h0M1856.6 188.6h0M1857.4 190.5h0M1844.8 189.4h0M1848.6 193.9h0M1849.9 193.9h0M1845.1 193.5h0M1838.7 193.6h0M1850.5 195.4h0M1845.1 194h0M1854.6 193.9h0M1856.9 195.2h0M1841.4 198h0M1861 197.8h0M1852.2 196.2h0M1849.6 199h0M1846.3 198.7h0M1853.7 196.1h0M1853 196.6h0M1848.6 198.7h0M1850.5 200.4h0M1847.6 200.8h0M1846.4 200.5h0M1851.1 203.8h0M1855.6 203.7h0M1854 203.5h0M1842.3 203.8h0M1851.7 207h0M1843.7 205.1h0M1846.9 204.7h0M1840.3 204.6h0M1847.9 206.2h0M1848.7 206.6h0M1847.9 205.3h0M1843.1 208.6h0M1847.7 210.3h0M1851.8 209.6h0M1848.3 208h0M1848.6 208.1h0M1851.8 211.5h0M1847.4 211.7h0M1851.9 208.8h0M1845.6 215.7h0M1847.1 212.1h0M1839.1 214.4h0M1857.7 215.8h0M1846 214.5h0M1837.5 212.7h0M1851.3 215.5h0M1848.7 215.3h0M1844.2 219.9h0M1842.3 218.5h0M1861 216.5h0M1851.7 217.2h0M1841.5 218.5h0M1847 218h0M1851.7 217.9h0M1850.9 218.2h0M1850.9 223h0M1857.5 220.8h0M1838.2 223.3h0M1845.4 223.2h0M1849.6 221.6h0M1848.7 221.7h0M1844.6 221h0M1846.6 223h0M1856 223.7h0M1841.7 226.5h0M1849.8 224.9h0M1845.1 226.2h0M1858 226.2h0M1838.8 227.9h0M1848.2 226.9h0M1845.8 225.7h0M1857.4 227h0M1846.7 230.2h0M1846.7 228.2h0M1847.6 228.5h0M1853.9 231.4h0M1854.8 232h0M1851 228.9h0M1843.6 229.7h0M1843.2 229.1h0M1854.8 236h0M1853.9 232.7h0M1842.3 233.3h0M1845.8 232.6h0M1854.2 232.1h0M1841.5 234.9h0M1848.8 234.4h0M1839.5 235.7h0M1846.6 232.2h0M1846.4 239.1h0M1852.7 236.6h0M1847.1 238.8h0M1839.4 239.5h0M1849.4 237.3h0M1841.5 237.7h0M1854.7 237.3h0M1846.2 239.4h0M1844.1 239.7h0M1860.1 243.4h0M1847.1 240.9h0M1850.1 243.4h0M1853 242.3h0M1855.9 243.8h0M1858.5 242h0M1849.6 243.2h0M1857.8 242.4h0M1853.3 240.6h0M1848.9 246.2h0M1849.4 245.6h0M1857.8 247.3h0M1855.1 247.3h0M1838.2 247.4h0M1854 245.1h0M1852.1 246.4h0M1856.5 247h0M1856.2 246.8h0M1851.3 250.4h0M1848.8 251h0M1861.3 251.5h0M1850.5 248h0M1842.5 249.2h0M1859.6 249.2h0M1847.3 251.9h0M1851.9 251.8h0M1843.4 248.3h0M1846 252.8h0M1850 252.1h0M1854.7 254.9h0M1850.4 255.8h0M1841.5 255h0M1845.3 253.9h0M1844.5 255.4h0M1843.4 253.5h0M1854.2 252.9h0M1844.4 254.4h0M1850.8 257h0M1853.4 259.7h0M1851.2 258.8h0M1854.8 256.5h0M1846.3 258.1h0M1848.9 259.6h0M1861 256.2h0M1851.7 259.9h0M1852.5 256.1h0M1859.6 256.3h0M1846.7 256.1h0M1856.9 261.1h0M1856 261.8h0M1847.7 261.3h0M1852.4 262.7h0M1854.1 260.3h0M1850.2 262.2h0M1849.5 260.3h0M1848.8 263h0M1847.1 260.2h0M1850.6 263.2h0M1852.9 262.4h0M1845.5 267.1h0M1853.6 264.7h0M1842.8 265.8h0M1854.8 266.8h0M1859.6 267.7h0M1861.5 268h0M1857 268.2h0M1847.7 267.3h0M1849.3 267.2h0M1840.8 265.1h0M1848.7 264.8h0M1851.4 271.6h0M1855.1 269.9h0M1848.2 269.2h0M1854.1 270.4h0M1846 268.6h0M1846 270.8h0M1852.1 270.3h0M1852.7 269.1h0M1839.7 271.2h0M1842.8 268.3h0M1840.9 271.9h0M1856.7 272.9h0M1842.8 275.5h0M1852.3 276.3h0M1843.4 276.2h0M1860.1 274.3h0M1845 273.3h0M1852 274.1h0M1837.1 274.8h0M1839.1 272.7h0M1851.3 276.5h0M1850 272.8h0M1837.3 280.5h0M1851.5 279.8h0M1844.2 279.6h0M1845.7 280.3h0M1845.6 279.4h0M1855 279h0M1855.2 279.8h0M1843.5 280.2h0M1856.5 280.2h0M1851.2 278.3h0M1845.6 278.3h0M1850.3 277.2h0M1858.7 283.5h0M1843.5 284.4h0M1845.6 284.4h0M1844.6 282.4h0M1845.5 284.1h0M1840.9 281.1h0M1848 283.9h0M1857.5 281.1h0M1847.7 280.7h0M1849.3 283.6h0M1854.6 284.7h0M1850.5 286.9h0M1841.2 288.3h0M1848.6 285.5h0M1855.7 286.9h0M1840.3 287.9h0M1855.8 287.4h0M1838 285h0M1860.9 284.8h0M1846.4 287.6h0M1849.3 287.1h0M1845 288.4h0M1849.9 285.9h0M1846.3 292.4h0M1858.4 291h0M1848.2 291.2h0M1847.2 289.5h0M1851.4 292.8h0M1855.3 292h0M1843.4 289.8h0M1849.8 289.3h0M1855.7 290.3h0M1852.3 291.3h0M1843.7 290.2h0M1858.2 290h0M1848.1 293.9h0M1844.1 294.6h0M1850.9 295.5h0M1851.5 294h0M1858.6 294.2h0M1841.1 295.5h0M1851.3 293.7h0M1845.9 295.9h0M1846.2 294.1h0M1856.7 294.2h0M1842.8 295.7h0M1840.3 294.1h0M1838.5 295.5h0M1851.8 298.4h0M1862.3 297.1h0M1857.4 300.2h0M1845.2 299.6h0M1852 299.4h0M1853.8 301h0M1852.6 300.9h0M1850.9 298h0M1857.2 301h0M1839.8 301h0M1846.2 299.9h0M1848.4 299.1h0M1850.5 301.7h0M1850.5 301.3h0M1855.7 301.2h0M1842.7 305h0M1841.5 302h0M1846.6 303.4h0M1839 303.2h0M1857.4 301.8h0M1841 303.6h0M1845.2 301.9h0M1855.7 303.7h0M1853.8 302.5h0M1860.6 305.8h0M1848.7 306.9h0M1856.4 305.9h0M1860.5 309h0M1854.1 307.3h0M1852.2 307.7h0M1843.9 306.6h0M1851.7 306.9h0M1856.9 308.3h0M1843.8 307h0M1853.1 305.8h0M1851.8 307.9h0M1845.7 306.1h0M1841 310h0M1850.3 310.5h0M1850.8 311.6h0M1845.8 309.7h0M1842.1 311.5h0M1850.3 313.5h0M1849.4 311.8h0M1842.1 311h0M1849.8 310.5h0M1849.1 312.2h0M1853.6 313.1h0M1844.4 311h0M1841.2 310.3h0M1855.6 314.3h0M1855.8 316.6h0M1848.5 316.1h0M1851.5 314.3h0M1841.1 315.9h0M1844.5 315.4h0M1847.5 317.3h0M1854.5 317.3h0M1851.3 315.8h0M1858.7 316.4h0M1837.2 315.5h0M1841.5 315.6h0M1846 313.6h0M1855 321.7h0M1844.1 321.8h0M1842.9 319.7h0M1860.8 317.9h0M1842.9 319.1h0M1842.1 318.8h0M1849.7 319.9h0M1856.9 318.7h0M1851.6 319.5h0M1843.5 320.8h0M1842.9 321.3h0M1843 321.4h0M1854.5 321.5h0M1856.2 323.7h0M1860 323.8h0M1843.9 322.7h0M1848.1 322.5h0M1859.1 323.9h0M1852.7 324.1h0M1841.9 324.2h0M1853.8 323.3h0M1844.8 323.4h0M1845.8 323.4h0M1864.2 323.9h0M1844.5 324.2h0M1841.4 322.8h0M1849.1 325.5h0M1862.9 326.2h0M1841.7 327.3h0M1846.9 326.2h0M1848.7 328.6h0M1859.8 328.7h0M1846.7 328.4h0M1836.6 326.8h0M1854.4 326.7h0M1846.3 327.1h0M1844.2 328.9h0M1844.8 327.5h0M1851.5 326.3h0M1862.2 328h0M1846.1 329.2h0M1846.2 333.2h0M1843.5 333.7h0M1845.6 332.7h0M1850.7 332.9h0M1843.1 331.6h0M1841.6 334h0M1847.8 331.5h0M1851 330.4h0M1839.1 330.2h0M1856.7 332.8h0M1847 331.9h0M1840.6 330.5h0M1842.8 330.3h0M1853.9 334h0M1839.3 337.3h0M1843.3 335h0M1849.8 336h0M1855.5 335.4h0M1844.2 335.6h0M1843.6 338h0M1857.5 337.5h0M1840.9 335.9h0M1838.5 334.2h0M1847.5 335.9h0M1859.8 334.5h0M1860.4 336.2h0M1851 337.9h0M1859.1 334.6h0M1841.8 336.7h0M1849.5 340.9h0M1842.7 339h0M1854.8 340h0M1848.5 340.8h0M1840.3 339h0M1863.1 338.4h0M1843.3 339.8h0M1853.7 342.1h0M1840.6 341.2h0M1842.2 339.3h0M1843.3 340.2h0M1848.1 340.6h0M1852.1 339.3h0M1843 341h0M1858.6 338.7h0M1852.4 344.2h0M1846.9 345.5h0M1841.7 343.2h0M1847.8 345.9h0M1840.6 342.7h0M1850.9 344.5h0M1854.6 342.8h0M1856.3 344.6h0M1841.2 344.7h0M1850.5 342.4h0M1851.8 345h0M1852.8 345.5h0M1845.8 342.2h0M1854 343.6h0M1848.5 346.2h0M1857.2 349h0M1838.1 348.3h0M1841.6 348.9h0M1851.2 347.9h0M1857.4 349.7h0M1851.7 350.1h0M1840.5 347.7h0M1835.6 346.6h0M1845.3 348.2h0M1854.9 349.9h0M1852.1 348.5h0M1851.3 347.3h0M1858.9 350.1h0M1855.2 349.4h0M1861.1 348.5h0M1848.7 350.4h0M1849.2 352.8h0M1841 353.4h0M1841.8 354.1h0M1849.6 353.3h0M1863 351.2h0M1860 351h0M1853.7 352.3h0M1849.2 354.4h0M1852.1 351.3h0M1853.1 353.9h0M1846.6 353.5h0M1855.9 353.9h0M1847.7 351.9h0M1844.1 352.2h0M1851 357.3h0M1851.3 356.8h0M1848.9 355.2h0M1862.2 357.6h0M1857.3 357.2h0M1852.6 356.3h0M1845 358.2h0M1851.3 358.4h0M1841.9 356.9h0M1843.9 358.4h0M1856.1 355.4h0M1857.6 354.8h0M1851.4 356.6h0M1854.4 357.2h0M1839.5 354.8h0M1863 355.5h0M1836.1 360.5h0M1849.6 360.5h0M1842.5 358.7h0M1863.9 359.6h0M1845.6 360.9h0M1842.9 358.6h0M1854.5 361.5h0M1854.4 361.9h0M1856.3 361.5h0M1839.7 361.9h0M1846.9 361.7h0M1840.8 359h0M1856.3 359.7h0M1836.3 359.6h0M1853.5 360.9h0M1850.3 359.5h0M1841 359.6h0M1851.1 362.6h0M1844.9 366.5h0M1858.4 366.5h0M1853.4 365.2h0M1860.2 363.5h0M1840.2 363.8h0M1863.1 364.3h0M1845.9 365.5h0M1844.4 366.3h0M1847.8 363.1h0M1856.8 366.4h0M1857.6 364.9h0M1854 366.5h0M1836.8 365.9h0M1844.7 365.5h0M1849.3 366h0M1847.9 364.9h0M1851.4 366.6h0M1847.9 368.5h0M1848.7 366.6h0M1852.5 370.4h0M1847 368.8h0M1857.4 367.3h0M1851.4 369.9h0M1858.7 369.6h0M1848.8 370.2h0M1857.8 367.6h0M1847.9 369.2h0M1846.4 370.2h0M1856.1 366.7h0M1863.3 367.4h0M1855.7 367.9h0M1852.4 367.7h0M1852.7 366.7h0M1858.1 370.8h0M1848.8 371.5h0M1839.4 371.3h0M1856.1 373.1h0M1855.1 373.7h0M1841.4 371.8h0M1864.7 373.3h0M1854.8 371h0M1848.6 371.2h0M1847.5 373.8h0M1850 374.4h0M1852.2 372.2h0M1838.4 370.9h0M1848.5 373.9h0M1846.4 371.1h0M1854.4 373.3h0M1849.5 373.8h0M1853 374.7h0M1845.7 377h0M1859.8 375.4h0M1848.3 376h0M1860.8 378.4h0M1836.4 377.1h0M1844.8 375.2h0M1852.4 375.6h0M1854.7 375.5h0M1845.9 375.8h0M1843.8 378.5h0M1843.1 378.4h0M1856.8 377.9h0M1856.2 378.6h0M1856 374.9h0M1839 375.7h0M1844.7 377.5h0M1861.8 380.7h0M1854.5 381.9h0M1847.5 382.3h0M1853.2 379.6h0M1853.8 380.1h0M1846.9 382.6h0M1851.9 382.4h0M1856.9 382.7h0M1851.9 382.3h0M1842.6 381.5h0M1863.9 379.4h0M1847.3 380.7h0M1848.4 379.7h0M1849.5 380.1h0M1844.2 379.7h0M1853.9 380.2h0M1839.6 378.9h0M1849.4 380.1h0M1847.6 385.6h0M1843.1 386.5h0M1838.3 386.5h0M1852.7 385.8h0M1852.2 384.4h0M1838.1 383.2h0M1864.1 386.3h0M1848.3 383.8h0M1840.7 385.5h0M1839.5 386.3h0M1863.7 383.6h0M1863.4 384.3h0M1865.7 384.6h0M1854.2 383.3h0M1835.8 386.7h0M1855.1 386.7h0M1858.5 386h0M1840.3 385.4h0M1854.9 387.5h0M1846.8 390.9h0M1846.1 390h0M1850 387.8h0M1837.7 387.1h0M1851.7 389h0M1865.5 388.9h0M1842 387.5h0M1858.9 387.5h0M1854.5 390h0M1836.9 389.8h0M1838.9 390.6h0M1844.5 388.9h0M1854.7 387.3h0M1859.7 390.7h0M1861.6 390.5h0M1847.1 387h0M1859.5 390.8h0M1863.5 389.4h0M1853 394.6h0M1837.6 391.4h0M1851.9 392.3h0M1851.9 394.4h0M1863.7 393.1h0M1835.8 391.9h0M1854.4 392.6h0M1851.7 393.4h0M1847.3 391.2h0M1855.2 392.2h0M1856.4 391.1h0M1845.6 394.2h0M1846.3 392h0M1852.3 392.7h0M1846.3 393.7h0M1850.8 391.4h0M1853.2 393h0M1847 391.3h0M1842.3 393.5h0M1844.9 339.6h0M1847.7 340.3h0M1851.5 340.4h0M1854.5 339.7h0M1843.7 343.5h0M1847.3 342.9h0M1851.1 343.1h0M1853.9 343.4h0M1845.4 345.8h0M1848 345.6h0M1851.4 346.5h0M1855.2 346.4h0M1844.5 348.7h0M1848 349.3h0M1850.9 348.7h0M1854.9 349h0M1843.6 352h0M1847.4 352.4h0M1850.8 352.3h0M1853.6 352.7h0M1856.9 352.7h0M1846.3 355h0M1849.7 355.1h0M1852.5 355.6h0M1856.2 355.7h0M1844.4 358.2h0M1848.1 358.2h0M1851.5 358.4h0M1854.7 358.6h0M1842.5 361.4h0M1845.9 361.4h0M1849.4 361.1h0M1853 361h0M1856.7 361.1h0M1845.3 364.2h0M1849 364.4h0M1852.3 364.2h0M1855.5 364.1h0M1844.6 367.4h0M1847.7 367.1h0M1850.9 368h0M1854.7 367.2h0M1858.4 367.5h0M1844.7 370.8h0M1849 370.2h0M1851.5 371h0M1855.8 370.6h0M1843.7 373.6h0M1846.7 373.5h0M1850.4 373.9h0M1853.9 373.4h0M1856.8 373.8h0M1844.3 376.8h0M1847.4 376.5h0M1850.8 376.7h0M1854.7 376.9h0M1857.5 376.6h0M1843.1 380.2h0M1846.6 379.9h0M1849.5 380h0M1852.5 380h0M1856.5 379.6h0M1842.9 383.2h0M1847 382.5h0M1849.6 383.3h0M1853.7 383h0M1856.5 382.6h0M1844.9 386h0M1847.8 386.2h0M1851.7 385.7h0M1854.4 386.1h0M1858.2 385.8h0M1842.9 388.8h0M1846.4 388.9h0M1849.8 389.4h0M1853.3 388.7h0M1856.3 389h0M1843.6 391.7h0M1847.1 392.5h0M1850.1 391.6h0M1853.5 392h0M1857 391.5h0M1841.9 394.9h0M1845.9 394.6h0M1849.3 395.5h0M1852.5 394.9h0M1856.2 395.4h0M1859.1 394.7h0M1841.7 398.2h0M1844.3 398.3h0M1848.5 398.4h0M1851.8 398.4h0M1854.6 397.7h0M1858.3 398h0M1842.7 401.4h0M1846.2 401h0M1848.9 401h0M1852.3 401.4h0M1856.5 400.7h0M1859.7 401.2h0M1842.7 404.3h0M1846.3 404.4h0M1850.1 404.6h0M1852.8 404.5h0M1856.3 404.6h0M1842 407.6h0M1844.9 406.9h0M1848.9 407.5h0M1852 407.4h0M1855.5 407.6h0M1858.9 406.9h0M1841.8 410.7h0M1845.2 410.7h0M1848.7 410.5h0M1851.8 410.5h0M1855.5 410.2h0M1858.7 410.2h0M1843.1 413.1h0M1846.5 413.1h0M1849.8 413.7h0M1853.2 413.4h0M1856.5 413.2h0M1860.3 413.7h0M1843.4 416.8h0M1846.7 416.5h0M1850 416.5h0M1853.6 416.8h0M1856.7 415.9h0M1860.4 416h0M1843.2 419.7h0M1845.9 419h0M1849.3 419.8h0M1853.4 419.2h0M1856.4 419.5h0M1860.1 419.3h0M1840.1 422.5h0M1844 422.9h0M1847.6 422.5h0M1850.9 422.1h0M1853.8 422.5h0M1858 422.9h0M1843.2 425.3h0M1846.4 426.1h0M1849.8 425.6h0M1853.3 426h0M1856.5 425.4h0M1859.8 425.4h0M1841.2 429h0M1844.8 428.2h0M1848.3 428.2h0M1851.7 428.5h0M1854.4 428.8h0M1858.7 429h0M1841 431.9h0M1843.7 432h0M1847.3 431.8h0M1850.7 431.5h0M1853.9 431.6h0M1858.3 431.7h0M1861 431.9h0M1840.5 434.5h0M1844.1 434.5h0M1846.6 434.9h0M1850.1 434.3h0M1853.9 435.2h0M1857.3 434.8h0M1860.4 434.8h0M1842.7 437.7h0M1845.4 437.5h0M1849.7 437.5h0M1852.5 438.3h0M1856.4 437.8h0M1859.4 438.2h0M1839.8 440.7h0M1842.4 440.6h0M1846.3 440.6h0M1849.2 441.4h0M1853.2 441.4h0M1856.1 440.7h0M1859.3 441h0M1842.2 443.8h0M1845.4 444.3h0M1848.6 443.7h0M1852.8 444.2h0M1855.5 444h0M1858.9 444.4h0M1840.6 446.6h0M1843.7 446.9h0M1847.4 446.9h0M1850.9 447.2h0M1853.6 447.1h0M1857.7 446.7h0M1860.6 447.4h0M1840.5 450h0M1844.1 450h0M1848.1 450.1h0M1851 450.1h0M1854.3 450.3h0M1857.6 449.7h0M1861.4 449.7h0M1839.2 452.6h0M1842.4 452.8h0M1845.8 453h0M1849.1 453.1h0M1852.8 453.4h0M1856.6 452.9h0M1860.1 453.3h0M1839.2 456.6h0M1842.3 456.5h0M1845.1 456.6h0M1849.5 456.4h0M1852.4 455.9h0M1855.7 456h0M1859.6 456.5h0M1840.5 459.1h0M1843.9 459.3h0M1848 458.9h0M1851.3 459.7h0M1854.6 458.7h0M1857.7 459.1h0M1861.7 458.7h0M1840.7 462.6h0M1844.1 462h0M1848.3 462.7h0M1851 461.9h0M1854.6 462h0M1857.6 461.9h0M1861.8 461.8h0M1839.9 465h0M1842.7 465.1h0M1845.9 465.2h0M1849.6 464.8h0M1852.7 464.9h0M1856.5 465.5h0M1859.6 464.9h0M1841.2 468.3h0M1844.8 468.4h0M1847.9 468h0M1850.8 468.8h0M1855 468.2h0M1858.3 468.1h0M1861.9 468.7h0M1840.1 471.7h0M1843 471.4h0M1846.4 471.3h0M1849.4 471.9h0M1852.9 471.6h0M1856.3 471.8h0M1860 471.5h0M1863.4 471.3h0M1838.6 474.9h0M1841.8 474.3h0M1845.3 474.3h0M1848.9 474.5h0M1852 474.6h0M1856.1 474.3h0M1858.8 474.9h0M1862.2 474h0M1840.9 477.7h0M1844.6 477.2h0M1847.9 477.9h0M1850.8 477.3h0M1854.6 477h0M1857.5 477.5h0M1861.5 477.8h0M1840.5 481h0M1844 480.8h0M1847.7 480.2h0M1851.2 480.4h0M1854.2 480.5h0M1857.6 480.4h0M1861 481h0M1840.2 484h0M1843.9 483.7h0M1847.4 483.5h0M1850.4 484.1h0M1854.2 483.7h0M1857.4 483.7h0M1860.7 484.1h0M1864.1 484.1h0M1839.6 487.1h0M1843.2 486.4h0M1847.1 487.1h0M1850.4 486.4h0M1853.5 486.7h0M1856.9 486.8h0M1860.8 487h0M1863.4 486.9h0M1837.8 490.1h0M1842 489.4h0M1845.5 489.9h0M1848.7 489.9h0M1851.5 490.3h0M1855 489.6h0M1858.7 489.7h0M1861.7 489.8h0M1840.4 493.2h0M1842.9 492.8h0M1847.1 493.1h0M1850.4 492.9h0M1853.5 492.8h0M1857.1 493.1h0M1860.5 493h0M1863.6 493.3h0M1838.7 496.1h0M1842.9 496.2h0M1846.1 496.1h0M1849.6 496h0M1852.7 495.6h0M1856.5 496.2h0M1859.1 495.7h0M1862.5 495.5h0M1838.4 498.7h0M1841.2 499.4h0M1844.7 499h0M1848.8 499.1h0M1852.2 499.3h0M1854.8 498.9h0M1859 499.4h0M1862.6 498.9h0M1865 498.6h0M1836.8 501.7h0M1840.3 502.2h0M1843.6 502.3h0M1847.3 501.8h0M1850.9 502.3h0M1853.6 501.9h0M1857.7 502.4h0M1860.2 501.9h0M1864.1 502.5h0M1837.9 505.1h0M1841.1 504.8h0M1844.8 505.1h0M1847.7 505.3h0M1851.6 505.3h0M1854.9 505.2h0M1858.5 504.6h0M1861.6 504.6h0M1864.8 505.1h0M1838.3 508.6h0M1841.4 508.1h0M1844.8 507.8h0M1848.4 508.4h0M1851.5 508.4h0M1855.5 508h0M1858.4 508.3h0M1862.3 508.3h0M1865.3 508.2h0M1837.5 511.5h0M1840.6 510.8h0M1844.4 511.2h0M1847.5 511.2h0M1850.6 511.6h0M1854.5 511.2h0M1858 511.6h0M1861 511.5h0M1864.8 511.5h0M1839.8 514h0M1842.7 514.6h0M1846.6 514.3h0M1849.2 514.7h0M1853.1 514.7h0M1856.6 513.9h0M1859.8 514.1h0M1863 514.7h0M1866.5 514.2h0M1837.2 514.9h0M1840.7 515.2h0M1844.5 514.5h0M1847.5 515h0M1851.3 514.6h0M1854.5 515h0M1857.6 514.7h0M1861.3 514.6h0M1864.8 515.3h0M1839.4 518.2h0M1842.3 518.6h0M1846.2 518.2h0M1849 517.9h0M1852.5 518h0M1856.2 518.3h0M1859 518.5h0M1862.5 517.7h0M1865.7 518.4h0M1838 520.7h0M1841.6 521.3h0M1844.6 520.7h0M1847.7 521.6h0M1851.9 520.8h0M1855 521.5h0M1858 520.8h0M1862.1 521.5h0M1865.4 520.9h0M1837.2 523.8h0M1840.3 524h0M1843.3 524h0M1847.3 524.4h0M1849.9 523.9h0M1853.9 523.8h0M1856.9 523.8h0M1860.2 523.9h0M1864.2 524.1h0M1867.2 524h0M1835.3 527.7h0M1839.2 527.3h0M1842 527.1h0M1845.6 527h0M1849.3 527.3h0M1852.5 527.6h0M1856.2 527.4h0M1858.8 527.3h0M1862.5 527h0M1866.4 527.2h0M1869.8 527.1h0M1837.2 530.7h0M1840 530.1h0M1843.8 530.5h0M1846.5 530.3h0M1850.8 530.2h0M1853.3 530.7h0M1856.8 530h0M1860.9 530.6h0M1864.2 530.5h0M1866.8 530.2h0M1834.6 533.5h0M1837.9 533.8h0M1841.5 533.4h0M1844.8 533.4h0M1848.9 533h0M1852.1 533.5h0M1855.4 533.5h0M1859.2 533.5h0M1861.7 533.8h0M1865.6 533.6h0M1869.3 533.7h0M1833.8 536.3h0M1837.6 536.1h0M1840.6 536.6h0M1844.3 536.8h0M1847.7 536.9h0M1851.5 536.9h0M1854.6 536.8h0M1857.6 536.5h0M1861.4 536h0M1865.1 535.9h0M1868.2 536.3h0M1871.4 536.6h0M1834.8 539.2h0M1838.4 539.5h0M1841.8 539.7h0M1845.6 539.1h0M1849.1 539.8h0M1852.3 539.7h0M1855.3 539.4h0M1859.3 539.4h0M1862.2 539.1h0M1865.8 539.9h0M1869.7 539.8h0M1834.6 542.2h0M1837.4 542.7h0M1841.6 542.5h0M1845 542.6h0M1847.8 542.8h0M1851.8 543h0M1854.7 542.2h0M1858.4 542.9h0M1861.3 542.1h0M1864.9 542.3h0M1868.1 542.6h0M1872 542.7h0M1835.9 546h0M1839.6 545.3h0M1842.7 546.1h0M1846.1 545.7h0M1849.4 545.5h0M1852.9 545.5h0M1855.7 545.9h0M1859.8 545.5h0M1862.6 545.4h0M1866.7 546h0M1869.6 545.3h0M1873.1 545.4h0M1833.8 549.1h0M1836.5 548.3h0M1840.5 548.4h0M1843.5 548.7h0M1846.9 548.3h0M1850.5 548.5h0M1854.1 548.5h0M1857.1 549h0M1860.7 548.8h0M1863.7 548.9h0M1867.8 548.5h0M1870.9 548.5h0M1874.1 548.6h0M1834.3 550.4h0M1837.9 549.6h0M1841.5 549.6h0M1844.5 549.7h0M1848.1 549.5h0M1851.5 549.9h0M1855.2 550.3h0M1858.5 550.3h0M1861.7 550.5h0M1864.9 549.9h0M1868.8 550h0M1872.4 549.5h0M1833.1 553.3h0M1836.4 553.5h0M1840.2 553.2h0M1843.9 553.3h0M1847 553.1h0M1850.5 552.9h0M1853.6 553.5h0M1857.2 552.9h0M1860.3 553.3h0M1863.8 553.4h0M1867.5 553.5h0M1870.3 552.8h0M1874.1 553.5h0M1833.4 556.4h0M1837.1 556.3h0M1840.3 555.7h0M1843.5 555.8h0M1847.6 555.9h0M1850.3 556.4h0M1854.2 556.2h0M1857.8 556.3h0M1861 555.9h0M1864.6 555.9h0M1868 556h0M1870.7 556h0M1874.5 555.6h0M1834.8 559.2h0M1837.8 559.4h0M1841.4 559.1h0M1844.8 559.4h0M1847.7 558.8h0M1851.3 559.3h0M1854.7 559.1h0M1857.6 559.1h0M1861.1 559.1h0M1865.1 558.8h0M1868.1 559h0M1871.5 559.6h0M1875.4 559.5h0M1834.4 562.6h0M1838.4 561.8h0M1841.7 562h0M1845 562.6h0M1848.3 562.1h0M1851.4 562.5h0M1854.7 562.4h0M1858.5 562.1h0M1862.1 562.2h0M1865.1 561.9h0M1868.3 562.3h0M1872.2 562.5h0M1875.3 561.9h0M1834.8 565.6h0M1837.9 564.9h0M1841.3 565h0M1845.1 565.4h0M1848.1 565.3h0M1851.2 565.3h0M1854.9 565.4h0M1858.5 565.7h0M1861.5 565.4h0M1865.3 565.2h0M1868.3 565.5h0M1871.9 565.7h0M1875 565.3h0M1831.8 568.7h0M1835.3 567.9h0M1838.8 568.7h0M1842 568.1h0M1845.6 568.2h0M1849.4 567.9h0M1852.7 568.4h0M1855.6 568.4h0M1859.8 568.4h0M1862.7 568.7h0M1865.7 567.9h0M1869.6 567.9h0M1872.7 568.5h0M1830.6 570.9h0M1834.3 571.2h0M1838 571.8h0M1841.3 571.2h0M1844.9 571.3h0M1848.5 571.5h0M1851 571h0M1854.4 571.7h0M1858.1 571.7h0M1861.5 571.9h0M1865.2 570.9h0M1868.5 571.7h0M1872 571.7h0M1875.6 571.1h0M1832.8 574.7h0M1836.1 574.1h0M1840.3 574h0M1843 574.2h0M1847.1 574.7h0M1849.9 574.7h0M1853.6 574.5h0M1856.9 574.3h0M1860 574h0M1863.5 574.8h0M1866.9 574.6h0M1870.5 574.3h0M1874.3 574.8h0M1831.6 577.8h0M1835.1 578h0M1838.6 577.7h0M1841.7 577.9h0M1844.9 577.3h0M1848.3 578h0M1851.8 577.5h0M1855.7 577.9h0M1858.7 578h0M1862.2 577.2h0M1865.7 577.7h0M1868.5 577.8h0M1872.7 577.3h0M1875.6 577.9h0M1833.1 580.6h0M1836.7 580.4h0M1839.4 580.5h0M1843 580.7h0M1846.7 580.7h0M1850.2 580.4h0M1853.4 580.9h0M1856.7 580.8h0M1860.5 580.5h0M1863.9 580.7h0M1867.1 580.9h0M1870.8 580.8h0M1873.8 580.7h0M1829.8 583.2h0M1833.4 583.5h0M1836.5 583.7h0M1839.9 583.4h0M1843.1 583.8h0M1846.5 583.9h0M1850.3 583.9h0M1854 583.9h0M1857 583.8h0M1860.8 583.7h0M1864 583.9h0M1867.5 583.6h0M1870.1 583.9h0M1874.4 583.8h0M1830.5 584h0M1833.7 584.5h0M1837.6 583.8h0M1840.8 584.2h0M1844 583.9h0M1848.1 584.6h0M1851.6 583.5h0M1855.1 584.2h0M1857.8 583.7h0M1861 584.3h0M1864.4 584.7h0M1868.6 584.1h0M1871.6 584.2h0M1874.6 583.6h0M1857.4 398.5h0M1844.1 395.1h0M1849.1 396.7h0M1844.7 399.2h0M1838.7 396.7h0M1848.8 400.8h0M1858.9 401.1h0M1843.7 403h0M1859.4 401.8h0M1853 402.9h0M1865.3 407.7h0M1851.1 407.1h0M1851.9 407.5h0M1844.1 407.6h0M1863.7 405.8h0M1841.5 408.1h0M1835.1 407.9h0M1854.6 407.8h0M1840.5 409.2h0M1858.7 409.7h0M1835 415.7h0M1843.9 412.8h0M1850.9 412.9h0M1855.8 415.2h0M1843.1 414.8h0M1836.2 414.8h0M1837.8 419.3h0M1836.6 419h0M1844.8 419.5h0M1864.6 418.8h0M1842.1 418.9h0M1835.5 419.9h0M1860.7 424.3h0M1854 423h0M1852.7 420.7h0M1841.9 423.4h0M1856.7 420.8h0M1854.6 422.5h0M1851.4 427h0M1847.5 424.9h0M1838.2 428.4h0M1842.6 426.8h0M1841.7 426.9h0M1863.9 428h0M1842.8 430h0M1835 430.7h0M1864.8 432.6h0M1865.6 432.4h0M1859.1 429.5h0M1838.1 432.8h0M1859.6 436.9h0M1858.6 436.8h0M1848.2 435.2h0M1866.4 437.2h0M1863.8 435.5h0M1854.9 436.3h0M1850.4 438.3h0M1837.4 437.5h0M1845.2 438.1h0M1864.7 440h0M1850.9 440.3h0M1834.4 441h0M1841.3 438.7h0M1844.2 442.6h0M1842.8 444.5h0M1842.1 444.1h0M1843.1 441.7h0M1853.7 444.8h0M1857 442.5h0M1838.2 442.5h0M1856.9 449.2h0M1844.5 446h0M1845.6 448.8h0M1844.8 446.9h0M1855.5 448.1h0M1835.4 448.4h0M1837.9 449.8h0M1844.3 453.3h0M1864.2 453.2h0M1857.7 454h0M1850 453.5h0M1843.3 450.6h0M1861.4 451.3h0M1834.8 451h0M1852.4 456.2h0M1834.9 457.8h0M1853.9 456.5h0M1847.5 455.3h0M1866.9 455.7h0M1855.7 456.8h0M1859.3 456.6h0M1867 454.1h0M1836.4 462.1h0M1857 460.3h0M1856.8 461.8h0M1841.8 462h0M1849.8 460h0M1853.6 460.8h0M1842.9 459.1h0M1857.4 462h0M1841.3 463.4h0M1851.5 466.2h0M1858.7 465.7h0M1855.3 466h0M1841.4 464.8h0M1867.1 462.2h0M1855.6 464.5h0M1838.7 465h0M1843 469.9h0M1851.5 467.5h0M1853.7 468.2h0M1847.9 468.8h0M1834.6 466.6h0M1858 468.5h0M1831.9 469.6h0M1869.6 469.3h0M1865.9 473.1h0M1844 470.5h0M1864.4 473.6h0M1847.8 471.8h0M1868.3 470.9h0M1865.6 472h0M1846.9 470.6h0M1842.4 472.9h0M1834.5 472.4h0M1837.3 475.3h0M1832.3 476.4h0M1855.2 474.8h0M1835.3 476.5h0M1846.4 475.9h0M1838.3 476h0M1870.7 476.3h0M1842.9 476h0M1848.3 475.1h0M1869.7 481.6h0M1866.8 482.1h0M1844.2 480.6h0M1833.1 479.1h0M1833.5 478.9h0M1854.8 480.2h0M1868.3 480.1h0M1861.9 480h0M1834.9 478.6h0M1837.9 484.7h0M1868.3 485h0M1850.6 485.6h0M1841.1 483.8h0M1871 483.4h0M1873.5 484.1h0M1858.8 484.7h0M1866.9 483.7h0M1843.2 485.5h0M1871.1 484.4h0M1832.1 488.6h0M1854 489.3h0M1869.9 489.8h0M1842.7 486.6h0M1862 487.6h0M1866.7 486.9h0M1872.5 486.7h0M1863.1 487.8h0M1850 489.5h0M1865.3 489.2h0M1851 491.2h0M1862 493.4h0M1848.7 493h0M1843.4 491.7h0M1861.9 490.8h0M1860.3 490.9h0M1868.4 493.5h0M1837.9 494.4h0M1848.3 493.3h0M1842.9 491.9h0M1838.4 490.7h0M1847.3 496.9h0M1847.4 496.8h0M1833.4 497.7h0M1871 497.8h0M1866.1 496.8h0M1841.3 495.3h0M1845.2 495.2h0M1872.2 498.6h0M1865.6 498.4h0M1841.8 497.8h0M1858.2 495.4h0M1855.4 502.2h0M1866 499.7h0M1852.7 502.2h0M1870.4 499h0M1858.7 501.7h0M1848.9 501.2h0M1841.7 502.5h0M1859.4 500.9h0M1838.2 502.6h0M1852 501h0M1847.9 499.4h0M1849.5 499.6h0M1856.1 504.6h0M1861.4 504.2h0M1859.3 505.7h0M1848.1 503.2h0M1856.4 505.4h0M1853.1 506.5h0M1874.5 503h0M1865.5 506h0M1849 506.3h0M1848.2 506.6h0M1835.7 503.8h0M1868 506.8h0M1850.7 509.3h0M1851 510h0M1841.9 509.3h0M1858.1 510.9h0M1839 507.6h0M1836.2 510.1h0M1846.3 508.3h0M1837.4 508h0M1865.2 508.5h0M1857 507.8h0M1871.3 510.6h0M1839.7 507.2h0M1868.1 511.6h0M1833.2 514.2h0M1875.4 511.6h0M1875.1 513.5h0M1840.1 512.9h0M1848.7 514.9h0M1860.3 511.9h0M1845.6 511.7h0M1863.5 511.7h0M1839.7 513h0M1865.2 514.8h0M1855.6 514.5h0M1833.4 511.1h0M1838.5 517.3h0M1846.1 517.1h0M1864 517.6h0M1857.5 518.2h0M1847.6 516.5h0M1831.6 516.7h0M1833.3 516.4h0M1831.3 518.3h0M1846.8 516h0M1838.5 516.2h0M1868.9 517.1h0M1852.1 517.8h0M1836.5 522.8h0M1842.9 520.3h0M1871.6 521.5h0M1844.8 522.6h0M1853.3 519.5h0M1846.8 521.3h0M1869.7 520h0M1853 520.3h0M1873.4 519.5h0M1869.9 521.7h0M1847.3 520h0M1854.6 519h0M1846.2 522.7h0M1842.4 526.7h0M1871.2 525.5h0M1857.8 524.3h0M1834.7 525.8h0M1843.2 525.6h0M1867.7 525.3h0M1830.4 523.8h0M1876.5 523.3h0M1846.4 523.7h0M1858 525.6h0M1859.6 526.3h0M1869.6 524.7h0M1838.4 523.8h0M1840.6 529.8h0M1864.4 531h0M1829.7 529.8h0M1837.4 530.9h0M1848.8 530.5h0M1848.7 529.6h0M1877.4 529.3h0M1856.3 527.5h0M1841.9 528.7h0M1856.9 530.1h0M1841.4 530.4h0M1874.6 529h0M1848.9 529.1h0M1874.8 533.3h0M1870.7 533.3h0M1846.6 531.7h0M1856.8 532h0M1867.2 533.8h0M1833.2 531.4h0M1864.5 534.3h0M1841.6 532.9h0M1844.4 531.3h0M1831.4 532.1h0M1870.2 532.8h0M1854.6 531.8h0M1836.7 532.4h0M1869.4 532.2h0M1843.1 538.2h0M1873.9 538.3h0M1849.6 535.5h0M1833.8 535.9h0M1874.5 535.5h0M1828.9 538.2h0M1859.5 535.6h0M1852 537.8h0M1861 536.9h0M1831.4 538.3h0M1859.7 537.6h0M1864.4 535.6h0M1871.1 537.1h0M1864.2 535.8h0M1839.2 542.2h0M1858.9 542.3h0M1861 541.4h0M1866.4 542.9h0M1872.6 540.3h0M1873.3 541.5h0M1840.8 540.4h0M1862.9 540.3h0M1844.1 542.1h0M1864.5 541.1h0M1847 541.9h0M1873.2 541.2h0M1831.7 539.9h0M1873.5 539.3h0M1866.6 539.7h0M1872.8 546.1h0M1870 544.4h0M1831.5 543.2h0M1834.3 544h0M1829.1 545.5h0M1833 543.5h0M1869.7 544.9h0M1836.5 547h0M1866.3 546.1h0M1858.8 546.8h0M1848.2 543.3h0M1872.8 546.5h0M1869.2 543.5h0M1851.7 544.9h0M1846.2 544.7h0M1834.2 545.2h0M1870.2 550.2h0M1860.9 550.2h0M1865.5 547.3h0M1876.9 548.7h0M1859.1 548.5h0M1841.8 549.9h0M1864.1 547.8h0M1866.4 550h0M1860.7 550.2h0M1867.8 549h0M1838.4 549.7h0M1862.2 549h0M1832.4 548.4h0M1832.3 550.2h0M1834.8 548h0M1852.7 550.8h0M1830.9 552.9h0M1847.9 554.3h0M1861.4 551.7h0M1860.3 553.8h0M1848.6 553.4h0M1843.3 554.1h0M1854.2 551.9h0M1875.4 551.3h0M1867.9 554.5h0M1853.9 551h0M1871.6 551.6h0M1855.6 553.7h0M1873.9 553.1h0M1866.2 552.3h0M1847.5 551.7h0M1833.3 553.2h0M1854.4 559h0M1876.2 555.8h0M1832.6 557.4h0M1832.7 557.9h0M1864.7 555.9h0M1833.4 557.8h0M1856.9 555.3h0M1828.8 558.7h0M1853.4 556.9h0M1831.7 558h0M1869.1 556.5h0M1865.3 556.8h0M1833.7 556.2h0M1856.1 558.7h0M1862.1 555.8h0M1849.1 555.7h0M1836.8 561.4h0M1868.2 559.4h0M1873.6 559.7h0M1869.8 559h0M1848.8 561.9h0M1854.9 562.7h0M1843.9 561.1h0M1860.3 562.4h0M1851.4 561.4h0M1852.9 561.5h0M1835.8 560.7h0M1856.9 559.7h0M1852.3 559.3h0M1867.9 562.3h0M1847.4 559.6h0M1838.5 561.7h0M1844.4 561.8h0M1845 563.3h0M1850 563.1h0M1837.9 563.2h0M1846.8 565.7h0M1859.1 563.4h0M1863.5 563.7h0M1852 563.2h0M1864.3 565.8h0M1858.7 563.2h0M1847.3 564.3h0M1868.3 566.9h0M1874.4 565.7h0M1869.6 563.1h0M1852.9 566.7h0M1829.5 566.3h0M1851.5 565h0M1851.4 565.1h0M1835 570.6h0M1869.9 567.4h0M1829.7 567.2h0M1872.7 570.9h0M1855.4 569.5h0M1828.7 569.2h0M1834.6 568.7h0M1845.5 569.6h0M1846.4 569h0M1874.4 570h0M1846.1 567h0M1845.7 568.7h0M1846.4 569.5h0M1846 569.7h0M1855.9 570.1h0M1854.3 567.5h0M1843.3 570h0M1846.6 574.6h0M1866.3 572.9h0M1835.3 571.6h0M1872.9 574.3h0M1845.1 571.3h0M1829.8 574.6h0M1859.1 572.3h0M1852.9 571.3h0M1853.1 572.3h0M1870.9 573.2h0M1859 573.2h0M1859.3 571.9h0M1831.4 571.2h0M1827.8 572.7h0M1862.6 571h0M1841.2 573h0M1853.1 572.6h0M1838.7 572h0M1865 571h0M1860.5 575.1h0M1872.2 578h0M1841.5 578.6h0M1834.5 577.6h0M1859.9 578.1h0M1839.3 578.1h0M1828.1 576.4h0M1864.2 575.5h0M1854.3 576.7h0M1837.3 578.5h0M1842.6 576.5h0M1857.7 576.1h0M1842.3 575h0M1829.6 577.1h0M1855.4 577h0M1871.4 575.1h0M1878 575.2h0M1855.7 576.5h0M1835.6 577.9h0M1852.4 582h0M1831.5 580.8h0M1848.3 580.3h0M1838.9 581.7h0M1841.7 579.8h0M1856.7 580.1h0M1867.9 582.3h0M1870 581.4h0M1847 580.5h0M1853.3 582.7h0M1847.3 579.5h0M1839.5 581.9h0M1871.5 580.8h0M1870.6 582.4h0M1864.7 579h0M1847.6 582.3h0M1853.8 582.7h0M1842.3 579.8h0M1836.6 579.6h0M1845.9 579.9h0M1851.5 584.4h0M1844.9 583.8h0M1846.9 584.4h0M1835.8 583.9h0M1853.6 584.1h0M1876.2 583.7h0M1845.5 584.4h0M1862.1 583.6h0M1832.5 583.7h0M1828.2 584.1h0M1869.7 584h0M1830.9 584.6h0M1825.6 583.3h0M1872.1 583.8h0M1857.2 583.6h0M1866.6 583.6h0M1826.7 584.1h0M1837.5 584.4h0M1858.1 584.4h0M1858.4 584.7h0" fill="none" stroke="#ff0000" stroke-width="5.5" stroke-linecap="round"/>
<text transform="translate(1621 106.3) scale(1 1.025)" text-anchor="start" font-size="30.8" fill="#0000ff" font-style="italic">σ<tspan font-style="normal" font-size="21.5" dy="6.5">3</tspan><tspan dy="-6.5">-t</tspan></text>
<text transform="translate(1409.3 411.9) scale(1 1.025)" text-anchor="start" font-size="31" font-style="italic">N-t</text>
<path d="M1596.5 193.1L1632.9 114" stroke="#ff00ff" stroke-width="1.2" fill="none"/>
<path d="M1636.2 106.7L1635.2 120L1632.9 114L1626.8 116.1Z" fill="#ff00ff" stroke="#ff00ff" stroke-width="0.5" stroke-linejoin="miter"/>
<path d="M1359.8 470.6L1404.2 422.4" stroke="#ff00ff" stroke-width="1.2" fill="none"/>
<path d="M1409.6 416.5L1404.5 428.8L1404.2 422.4L1397.7 422.6Z" fill="#ff00ff" stroke="#ff00ff" stroke-width="0.5" stroke-linejoin="miter"/>
</g>
</svg>
</body>
</html>
